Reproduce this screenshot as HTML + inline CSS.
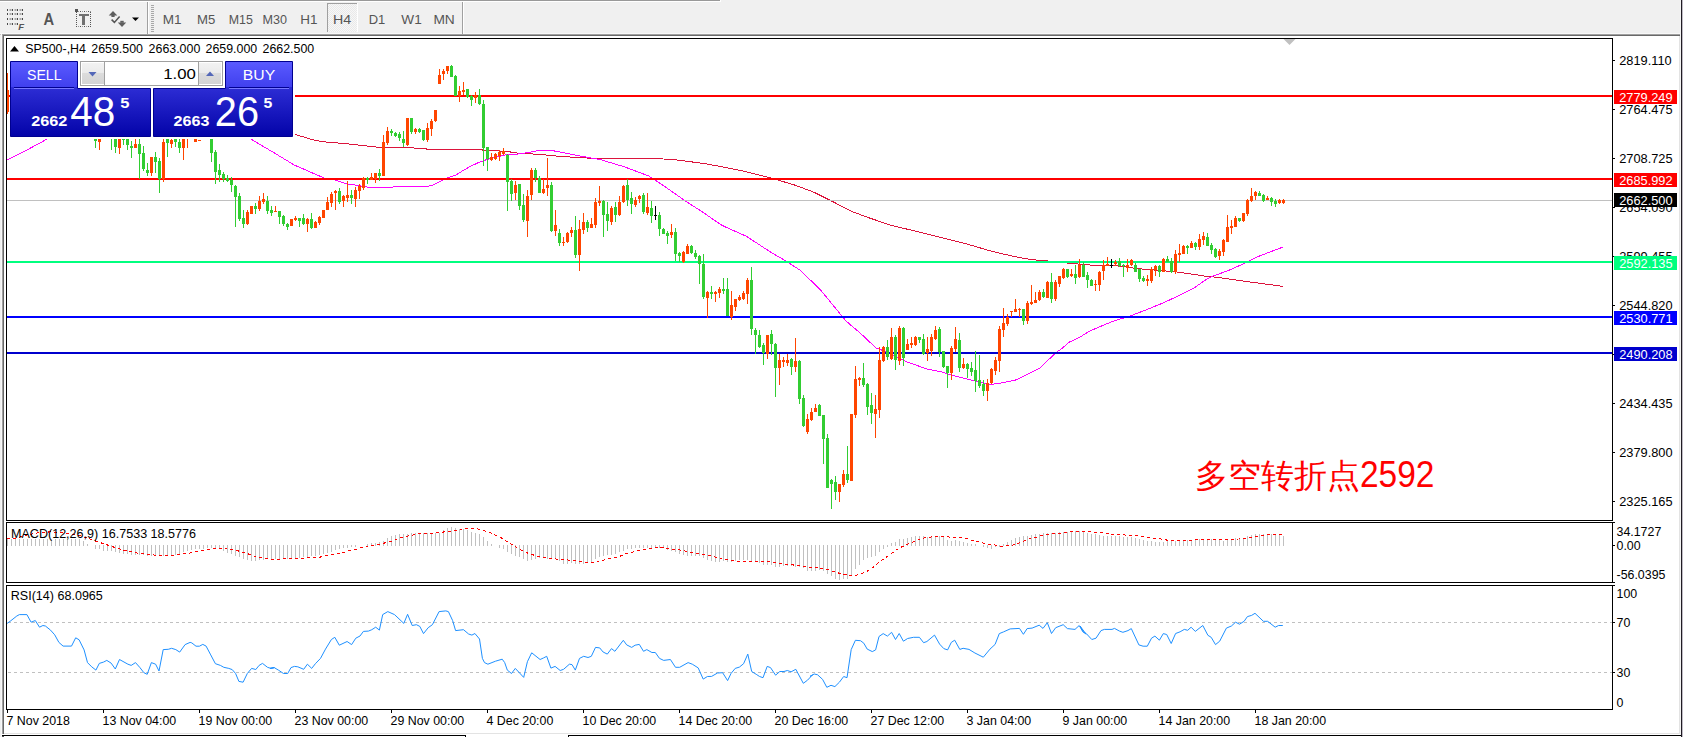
<!DOCTYPE html>
<html><head><meta charset="utf-8"><title>SP500-,H4</title>
<style>
html,body{margin:0;padding:0;background:#fff;}
body{width:1683px;height:737px;overflow:hidden;}
svg{display:block;}
text{font-family:'Liberation Sans', sans-serif;}
</style></head>
<body>
<svg width="1683" height="737" viewBox="0 0 1683 737">
<rect x="0" y="0" width="1683" height="737" fill="#ffffff"/>
<rect x="0" y="0" width="1683" height="34" fill="#f0f0f0"/>
<rect x="0" y="0" width="720" height="1" fill="#999999"/>
<rect x="0" y="1" width="721" height="1" fill="#ffffff"/>
<rect x="720" y="0" width="1" height="2" fill="#ffffff"/>
<rect x="0" y="33" width="1680" height="1" fill="#f8f8f8"/>
<rect x="0" y="34" width="2" height="703" fill="#f0f0f0"/>
<rect x="0" y="34" width="2" height="1" fill="#c4c4c4"/>
<rect x="1" y="34" width="1" height="703" fill="#f8f8f8"/>
<rect x="2" y="34" width="1678" height="1" fill="#a0a0a0"/>
<rect x="3" y="35" width="1677" height="1" fill="#696969"/>
<rect x="2" y="34" width="1" height="700" fill="#a0a0a0"/>
<rect x="3" y="35" width="1" height="699" fill="#696969"/>
<rect x="1679" y="36" width="1" height="698" fill="#e3e3e3"/>
<rect x="4" y="733" width="1676" height="1" fill="#e3e3e3"/>
<rect x="1680" y="0" width="1" height="737" fill="#f4f4f4"/>
<rect x="1681" y="0" width="1" height="737" fill="#201c24"/>
<rect x="1682" y="0" width="1" height="737" fill="#c0bcc6"/>
<rect x="2" y="735" width="464" height="1" fill="#000000"/>
<rect x="465" y="735" width="1" height="2" fill="#000000"/>
<rect x="568" y="735" width="1" height="2" fill="#000000"/>
<rect x="568" y="735" width="1113" height="1" fill="#000000"/>
<rect x="2" y="736" width="2" height="1" fill="#555555"/>
<rect x="7" y="9" width="1" height="2" fill="#4a4a4a"/>
<rect x="9.5" y="9" width="2" height="2" fill="#a8a8a8"/>
<rect x="12" y="9" width="1" height="2" fill="#4a4a4a"/>
<rect x="14.5" y="9" width="2" height="2" fill="#a8a8a8"/>
<rect x="17" y="9" width="1" height="2" fill="#4a4a4a"/>
<rect x="19.5" y="9" width="2" height="2" fill="#a8a8a8"/>
<rect x="22" y="9" width="1" height="2" fill="#4a4a4a"/>
<rect x="7" y="13" width="1" height="2" fill="#4a4a4a"/>
<rect x="9.5" y="13" width="2" height="2" fill="#a8a8a8"/>
<rect x="12" y="13" width="1" height="2" fill="#4a4a4a"/>
<rect x="14.5" y="13" width="2" height="2" fill="#a8a8a8"/>
<rect x="17" y="13" width="1" height="2" fill="#4a4a4a"/>
<rect x="19.5" y="13" width="2" height="2" fill="#a8a8a8"/>
<rect x="22" y="13" width="1" height="2" fill="#4a4a4a"/>
<rect x="7" y="18" width="1" height="2" fill="#4a4a4a"/>
<rect x="9.5" y="18" width="2" height="2" fill="#a8a8a8"/>
<rect x="12" y="18" width="1" height="2" fill="#4a4a4a"/>
<rect x="14.5" y="18" width="2" height="2" fill="#a8a8a8"/>
<rect x="17" y="18" width="1" height="2" fill="#4a4a4a"/>
<rect x="19.5" y="18" width="2" height="2" fill="#a8a8a8"/>
<rect x="22" y="18" width="1" height="2" fill="#4a4a4a"/>
<rect x="7" y="23" width="1" height="2" fill="#4a4a4a"/>
<rect x="9.5" y="23" width="2" height="2" fill="#a8a8a8"/>
<rect x="12" y="23" width="1" height="2" fill="#4a4a4a"/>
<rect x="14.5" y="23" width="2" height="2" fill="#a8a8a8"/>
<rect x="17" y="23" width="1" height="2" fill="#4a4a4a"/>
<text x="18.3" y="29.9" fill="#555" font-size="9.5" font-weight="bold" font-style="italic" font-family="'Liberation Sans', sans-serif">F</text>
<text x="43.6" y="24.7" fill="#555" font-size="16.6" font-weight="bold" font-family="'Liberation Sans', sans-serif" textLength="10.6" lengthAdjust="spacingAndGlyphs">A</text>
<rect x="78" y="11" width="1" height="1" fill="#999"/>
<rect x="78" y="26" width="1" height="1" fill="#999"/>
<rect x="80" y="11" width="1" height="1" fill="#555"/>
<rect x="80" y="26" width="1" height="1" fill="#555"/>
<rect x="82" y="11" width="1" height="1" fill="#999"/>
<rect x="82" y="26" width="1" height="1" fill="#999"/>
<rect x="84" y="11" width="1" height="1" fill="#555"/>
<rect x="84" y="26" width="1" height="1" fill="#555"/>
<rect x="86" y="11" width="1" height="1" fill="#999"/>
<rect x="86" y="26" width="1" height="1" fill="#999"/>
<rect x="88" y="11" width="1" height="1" fill="#555"/>
<rect x="88" y="26" width="1" height="1" fill="#555"/>
<rect x="90" y="11" width="1" height="1" fill="#999"/>
<rect x="90" y="26" width="1" height="1" fill="#999"/>
<rect x="76" y="12" width="1" height="1" fill="#555"/>
<rect x="90" y="12" width="1" height="1" fill="#555"/>
<rect x="76" y="14" width="1" height="1" fill="#555"/>
<rect x="90" y="14" width="1" height="1" fill="#555"/>
<rect x="76" y="16" width="1" height="1" fill="#555"/>
<rect x="90" y="16" width="1" height="1" fill="#555"/>
<rect x="76" y="18" width="1" height="1" fill="#555"/>
<rect x="90" y="18" width="1" height="1" fill="#555"/>
<rect x="76" y="20" width="1" height="1" fill="#555"/>
<rect x="90" y="20" width="1" height="1" fill="#555"/>
<rect x="76" y="22" width="1" height="1" fill="#555"/>
<rect x="90" y="22" width="1" height="1" fill="#555"/>
<rect x="76" y="24" width="1" height="1" fill="#555"/>
<rect x="90" y="24" width="1" height="1" fill="#555"/>
<rect x="76" y="26" width="1" height="1" fill="#555"/>
<rect x="90" y="26" width="1" height="1" fill="#555"/>
<rect x="75" y="9" width="3" height="3" fill="#555"/>
<rect x="79" y="14" width="10" height="2" fill="#707070"/>
<rect x="82" y="14" width="3" height="11" fill="#707070"/>
<path d="M108.7 15.5 L113 11 L117.3 15.5 L114.6 15.5 L114.6 17 L111.4 17 L111.4 15.5 Z" fill="#5e5e5e"/>
<path d="M117.8 22.6 L126.2 22.6 L122 27 Z" fill="#5e5e5e"/>
<rect x="120.3" y="20.8" width="3.4" height="2" fill="#5e5e5e"/>
<path d="M111.6 19.6 L114.4 22.4 L119.6 16.4" stroke="#555" stroke-width="1.5" fill="none"/>
<path d="M132 17.5 L139 17.5 L135.5 21 Z" fill="#000"/>
<rect x="147" y="2" width="1" height="32" fill="#a0a0a0"/>
<rect x="148" y="2" width="1" height="32" fill="#ffffff"/>
<rect x="151" y="5" width="3" height="1" fill="#a8a8a8"/>
<rect x="151" y="7" width="3" height="1" fill="#a8a8a8"/>
<rect x="151" y="9" width="3" height="1" fill="#a8a8a8"/>
<rect x="151" y="11" width="3" height="1" fill="#a8a8a8"/>
<rect x="151" y="13" width="3" height="1" fill="#a8a8a8"/>
<rect x="151" y="15" width="3" height="1" fill="#a8a8a8"/>
<rect x="151" y="17" width="3" height="1" fill="#a8a8a8"/>
<rect x="151" y="19" width="3" height="1" fill="#a8a8a8"/>
<rect x="151" y="21" width="3" height="1" fill="#a8a8a8"/>
<rect x="151" y="23" width="3" height="1" fill="#a8a8a8"/>
<rect x="151" y="25" width="3" height="1" fill="#a8a8a8"/>
<rect x="151" y="27" width="3" height="1" fill="#a8a8a8"/>
<rect x="151" y="29" width="3" height="1" fill="#a8a8a8"/>
<rect x="151" y="31" width="3" height="1" fill="#a8a8a8"/>
<rect x="462" y="2" width="1" height="32" fill="#a0a0a0"/>
<rect x="463" y="2" width="1" height="32" fill="#ffffff"/>
<defs><pattern id="dith" width="2" height="2" patternUnits="userSpaceOnUse"><rect width="2" height="2" fill="#f7f7f7"/><rect width="1" height="1" fill="#e9e9e9"/><rect x="1" y="1" width="1" height="1" fill="#e9e9e9"/></pattern><linearGradient id="gsell" x1="0" y1="0" x2="0" y2="1"><stop offset="0" stop-color="#5a5aff"/><stop offset="1" stop-color="#4040ee"/></linearGradient><linearGradient id="glow" x1="0" y1="0" x2="0" y2="1"><stop offset="0" stop-color="#4343ec"/><stop offset="1" stop-color="#0303a8"/></linearGradient><linearGradient id="gbtn" x1="0" y1="0" x2="0" y2="1"><stop offset="0" stop-color="#f2f2f2"/><stop offset="0.45" stop-color="#ebebeb"/><stop offset="0.5" stop-color="#dcdcdc"/><stop offset="1" stop-color="#d4d4d4"/></linearGradient></defs>
<rect x="327" y="3" width="31" height="29" fill="url(#dith)"/>
<rect x="327" y="3" width="31" height="1" fill="#a0a0a0"/>
<rect x="327" y="3" width="1" height="29" fill="#a0a0a0"/>
<rect x="357" y="3" width="1" height="29" fill="#ffffff"/>
<text x="162.8" y="23.6" fill="#555555" font-size="13" textLength="18.8" lengthAdjust="spacingAndGlyphs">M1</text>
<text x="197.0" y="23.6" fill="#555555" font-size="13" textLength="18.3" lengthAdjust="spacingAndGlyphs">M5</text>
<text x="228.8" y="23.6" fill="#555555" font-size="13" textLength="24.1" lengthAdjust="spacingAndGlyphs">M15</text>
<text x="262.6" y="23.6" fill="#555555" font-size="13" textLength="24.5" lengthAdjust="spacingAndGlyphs">M30</text>
<text x="300.2" y="23.6" fill="#555555" font-size="13" textLength="17.2" lengthAdjust="spacingAndGlyphs">H1</text>
<text x="332.9" y="23.6" fill="#555555" font-size="13" textLength="18.2" lengthAdjust="spacingAndGlyphs">H4</text>
<text x="368.7" y="23.6" fill="#555555" font-size="13" textLength="16.6" lengthAdjust="spacingAndGlyphs">D1</text>
<text x="401.3" y="23.6" fill="#555555" font-size="13" textLength="20.4" lengthAdjust="spacingAndGlyphs">W1</text>
<text x="433.4" y="23.6" fill="#555555" font-size="13" textLength="21.4" lengthAdjust="spacingAndGlyphs">MN</text>
<rect x="6" y="38" width="1607" height="1" fill="#000"/>
<rect x="6" y="38" width="1" height="483" fill="#000"/>
<rect x="1612" y="38" width="1" height="483" fill="#000"/>
<rect x="6" y="520" width="1607" height="1" fill="#000"/>
<rect x="6" y="522" width="1607" height="1" fill="#000"/>
<rect x="6" y="522" width="1" height="61" fill="#000"/>
<rect x="1612" y="522" width="1" height="61" fill="#000"/>
<rect x="6" y="582" width="1607" height="1" fill="#000"/>
<rect x="6" y="585" width="1607" height="1" fill="#000"/>
<rect x="6" y="585" width="1" height="125" fill="#000"/>
<rect x="1612" y="585" width="1" height="125" fill="#000"/>
<rect x="6" y="709" width="1607" height="1" fill="#000"/>
<g fill="none" stroke-width="1" shape-rendering="crispEdges">
<polyline points="280.0,129.5 295.0,134.2 301.0,136.2 307.8,138.2 314.6,140.3 327.2,142.2 342.8,143.4 358.4,145.0 380.0,147.5 413.3,147.5 414.1,148.3 425.8,148.3 426.6,149.4 481.5,149.4 483.2,150.4 498.1,150.4 499.8,151.2 509.8,151.2 510.6,152.3 520.0,153.3 538.6,154.3 556.9,156.1 575.2,157.4 593.5,158.3 637.8,158.3 653.6,158.5 673.1,159.5 704.8,163.6 721.8,166.8 746.2,171.7 770.5,177.8 794.9,185.1 814.4,192.4 831.4,200.9 850.9,211.1 868.0,217.5 892.3,225.7 916.7,231.4 941.0,237.4 965.4,243.5 989.8,250.8 1004.0,254.2 1017.6,257.2 1031.1,259.6 1044.7,260.7 1070.0,263.3 1093.5,265.3 1114.0,265.4 1137.3,268.6 1176.4,271.9 1193.5,274.3 1205.7,276.2 1218.0,277.4 1250.0,282.0 1283.0,286.4" stroke="#dc143c"/>
<polyline points="7.0,160.0 25.0,151.0 40.0,143.0 52.0,136.0" stroke="#ff00ff"/>
<polyline points="248.0,136.5 251.2,139.2 260.4,144.7 271.9,151.5 282.0,157.6 294.3,165.0 311.6,172.6 324.0,178.0 335.0,180.0 347.5,184.0 358.4,185.5 369.3,187.4 392.9,187.4 393.3,186.2 428.7,186.2 433.2,184.9 443.2,179.9 449.0,177.3 455.3,175.4 463.2,170.4 471.5,165.8 479.8,162.0 488.2,159.1 496.5,157.1 504.8,155.0 516.4,154.3 529.5,152.4 538.6,150.4 551.4,150.4 566.0,153.2 584.4,156.8 600.0,159.5 624.4,166.8 648.7,176.0 660.9,183.8 685.3,200.9 702.3,211.9 721.8,225.3 746.2,236.2 770.5,252.0 785.1,260.6 799.8,270.0 820.0,289.3 846.0,321.0 860.9,333.7 875.9,347.9 881.8,350.1 890.8,353.8 906.0,361.6 913.6,364.3 927.1,369.0 940.7,371.7 954.3,375.8 967.8,379.2 976.0,381.2 990.0,384.6 1000.4,383.2 1015.6,380.0 1028.0,374.1 1039.4,368.4 1048.9,359.4 1056.5,352.3 1062.2,348.3 1068.8,342.3 1080.2,337.1 1088.8,331.4 1107.0,323.7 1114.0,321.0 1130.0,316.0 1145.8,310.0 1163.0,303.0 1181.3,294.5 1193.5,288.4 1205.7,279.8 1211.8,276.4 1218.0,274.3 1229.5,270.0 1245.4,263.0 1258.8,256.3 1273.5,250.6 1282.7,247.2" stroke="#ff00ff"/>
</g>
<rect x="7" y="200" width="1605" height="1" fill="#c0c0c0"/>
<rect x="7" y="95" width="1605" height="2" fill="#ff0000"/>
<rect x="7" y="178" width="1605" height="2" fill="#ff0000"/>
<rect x="7" y="261" width="1605" height="2" fill="#00ff7f"/>
<rect x="7" y="316" width="1605" height="2" fill="#0000ff"/>
<rect x="7" y="352" width="1605" height="2" fill="#0000cd"/>
<g shape-rendering="crispEdges">
<rect x="7" y="73" width="1" height="41" fill="#ff4500"/>
<rect x="7" y="90" width="2" height="22" fill="#ff4500"/>
<rect x="95" y="130" width="1" height="18" fill="#32cd32"/>
<rect x="94" y="130" width="3" height="11" fill="#32cd32"/>
<rect x="99" y="130" width="1" height="20" fill="#ff4500"/>
<rect x="98" y="130" width="3" height="12" fill="#ff4500"/>
<rect x="111" y="130" width="1" height="20" fill="#32cd32"/>
<rect x="110" y="130" width="3" height="4" fill="#32cd32"/>
<rect x="115" y="130" width="1" height="23" fill="#32cd32"/>
<rect x="114" y="130" width="3" height="17" fill="#32cd32"/>
<rect x="119" y="130" width="1" height="24" fill="#ff4500"/>
<rect x="118" y="130" width="3" height="18" fill="#ff4500"/>
<rect x="123" y="130" width="1" height="15" fill="#32cd32"/>
<rect x="122" y="130" width="3" height="10" fill="#32cd32"/>
<rect x="127" y="130" width="1" height="20" fill="#32cd32"/>
<rect x="126" y="130" width="3" height="15" fill="#32cd32"/>
<rect x="131" y="141" width="1" height="17" fill="#32cd32"/>
<rect x="130" y="146" width="3" height="2" fill="#32cd32"/>
<rect x="135" y="139" width="1" height="9" fill="#ff4500"/>
<rect x="134" y="144" width="3" height="4" fill="#ff4500"/>
<rect x="139" y="130" width="1" height="49" fill="#32cd32"/>
<rect x="138" y="144" width="3" height="10" fill="#32cd32"/>
<rect x="143" y="146" width="1" height="25" fill="#32cd32"/>
<rect x="142" y="153" width="3" height="16" fill="#32cd32"/>
<rect x="147" y="163" width="1" height="13" fill="#32cd32"/>
<rect x="146" y="170" width="3" height="3" fill="#32cd32"/>
<rect x="151" y="157" width="1" height="19" fill="#ff4500"/>
<rect x="150" y="157" width="3" height="16" fill="#ff4500"/>
<rect x="155" y="152" width="1" height="21" fill="#32cd32"/>
<rect x="154" y="157" width="3" height="5" fill="#32cd32"/>
<rect x="159" y="158" width="1" height="35" fill="#32cd32"/>
<rect x="158" y="161" width="3" height="18" fill="#32cd32"/>
<rect x="163" y="139" width="1" height="43" fill="#ff4500"/>
<rect x="162" y="142" width="3" height="37" fill="#ff4500"/>
<rect x="167" y="130" width="1" height="27" fill="#32cd32"/>
<rect x="166" y="130" width="3" height="13" fill="#32cd32"/>
<rect x="171" y="130" width="1" height="18" fill="#ff4500"/>
<rect x="170" y="140" width="3" height="4" fill="#ff4500"/>
<rect x="175" y="130" width="1" height="17" fill="#32cd32"/>
<rect x="174" y="130" width="3" height="12" fill="#32cd32"/>
<rect x="179" y="130" width="1" height="23" fill="#32cd32"/>
<rect x="178" y="142" width="3" height="6" fill="#32cd32"/>
<rect x="183" y="130" width="1" height="30" fill="#ff4500"/>
<rect x="182" y="130" width="3" height="18" fill="#ff4500"/>
<rect x="187" y="130" width="1" height="18" fill="#ff4500"/>
<rect x="186" y="130" width="3" height="4" fill="#ff4500"/>
<rect x="195" y="139" width="1" height="3" fill="#ff4500"/>
<rect x="194" y="139" width="3" height="3" fill="#ff4500"/>
<rect x="199" y="140" width="1" height="1" fill="#ff4500"/>
<rect x="198" y="140" width="3" height="1" fill="#ff4500"/>
<rect x="211" y="130" width="1" height="32" fill="#32cd32"/>
<rect x="210" y="130" width="3" height="23" fill="#32cd32"/>
<rect x="215" y="150" width="1" height="34" fill="#32cd32"/>
<rect x="214" y="152" width="3" height="20" fill="#32cd32"/>
<rect x="219" y="164" width="1" height="18" fill="#32cd32"/>
<rect x="218" y="170" width="3" height="5" fill="#32cd32"/>
<rect x="223" y="172" width="1" height="10" fill="#32cd32"/>
<rect x="222" y="174" width="3" height="5" fill="#32cd32"/>
<rect x="227" y="175" width="1" height="7" fill="#32cd32"/>
<rect x="226" y="178" width="3" height="3" fill="#32cd32"/>
<rect x="231" y="177" width="1" height="15" fill="#32cd32"/>
<rect x="230" y="180" width="3" height="5" fill="#32cd32"/>
<rect x="235" y="185" width="1" height="42" fill="#32cd32"/>
<rect x="234" y="186" width="3" height="11" fill="#32cd32"/>
<rect x="239" y="193" width="1" height="28" fill="#32cd32"/>
<rect x="238" y="196" width="3" height="23" fill="#32cd32"/>
<rect x="243" y="210" width="1" height="18" fill="#32cd32"/>
<rect x="242" y="218" width="3" height="6" fill="#32cd32"/>
<rect x="247" y="210" width="1" height="15" fill="#ff4500"/>
<rect x="246" y="212" width="3" height="12" fill="#ff4500"/>
<rect x="251" y="206" width="1" height="8" fill="#ff4500"/>
<rect x="250" y="206" width="3" height="8" fill="#ff4500"/>
<rect x="255" y="203" width="1" height="11" fill="#32cd32"/>
<rect x="254" y="206" width="3" height="3" fill="#32cd32"/>
<rect x="259" y="196" width="1" height="15" fill="#ff4500"/>
<rect x="258" y="201" width="3" height="8" fill="#ff4500"/>
<rect x="263" y="193" width="1" height="11" fill="#ff4500"/>
<rect x="262" y="199" width="3" height="3" fill="#ff4500"/>
<rect x="267" y="196" width="1" height="18" fill="#32cd32"/>
<rect x="266" y="201" width="3" height="10" fill="#32cd32"/>
<rect x="271" y="206" width="1" height="10" fill="#32cd32"/>
<rect x="270" y="210" width="3" height="3" fill="#32cd32"/>
<rect x="275" y="206" width="1" height="6" fill="#ff4500"/>
<rect x="274" y="211" width="3" height="1" fill="#ff4500"/>
<rect x="279" y="211" width="1" height="13" fill="#32cd32"/>
<rect x="278" y="211" width="3" height="6" fill="#32cd32"/>
<rect x="283" y="215" width="1" height="11" fill="#32cd32"/>
<rect x="282" y="216" width="3" height="8" fill="#32cd32"/>
<rect x="287" y="223" width="1" height="7" fill="#32cd32"/>
<rect x="286" y="224" width="3" height="3" fill="#32cd32"/>
<rect x="291" y="219" width="1" height="7" fill="#ff4500"/>
<rect x="290" y="219" width="3" height="7" fill="#ff4500"/>
<rect x="295" y="216" width="1" height="5" fill="#ff4500"/>
<rect x="294" y="218" width="3" height="2" fill="#ff4500"/>
<rect x="299" y="218" width="1" height="9" fill="#32cd32"/>
<rect x="298" y="218" width="3" height="3" fill="#32cd32"/>
<rect x="303" y="214" width="1" height="11" fill="#32cd32"/>
<rect x="302" y="218" width="3" height="6" fill="#32cd32"/>
<rect x="307" y="218" width="1" height="14" fill="#ff4500"/>
<rect x="306" y="219" width="3" height="5" fill="#ff4500"/>
<rect x="311" y="213" width="1" height="16" fill="#32cd32"/>
<rect x="310" y="219" width="3" height="9" fill="#32cd32"/>
<rect x="315" y="221" width="1" height="7" fill="#ff4500"/>
<rect x="314" y="222" width="3" height="6" fill="#ff4500"/>
<rect x="319" y="216" width="1" height="9" fill="#ff4500"/>
<rect x="318" y="217" width="3" height="6" fill="#ff4500"/>
<rect x="323" y="210" width="1" height="8" fill="#ff4500"/>
<rect x="322" y="210" width="3" height="8" fill="#ff4500"/>
<rect x="327" y="197" width="1" height="13" fill="#ff4500"/>
<rect x="326" y="202" width="3" height="8" fill="#ff4500"/>
<rect x="331" y="192" width="1" height="15" fill="#ff4500"/>
<rect x="330" y="194" width="3" height="9" fill="#ff4500"/>
<rect x="335" y="190" width="1" height="20" fill="#ff4500"/>
<rect x="334" y="191" width="3" height="2" fill="#ff4500"/>
<rect x="339" y="188" width="1" height="16" fill="#32cd32"/>
<rect x="338" y="191" width="3" height="11" fill="#32cd32"/>
<rect x="343" y="195" width="1" height="12" fill="#ff4500"/>
<rect x="342" y="196" width="3" height="5" fill="#ff4500"/>
<rect x="347" y="181" width="1" height="21" fill="#ff4500"/>
<rect x="346" y="195" width="3" height="3" fill="#ff4500"/>
<rect x="351" y="190" width="1" height="14" fill="#32cd32"/>
<rect x="350" y="195" width="3" height="3" fill="#32cd32"/>
<rect x="355" y="187" width="1" height="20" fill="#ff4500"/>
<rect x="354" y="190" width="3" height="9" fill="#ff4500"/>
<rect x="359" y="184" width="1" height="15" fill="#ff4500"/>
<rect x="358" y="186" width="3" height="5" fill="#ff4500"/>
<rect x="363" y="177" width="1" height="13" fill="#ff4500"/>
<rect x="362" y="178" width="3" height="10" fill="#ff4500"/>
<rect x="367" y="177" width="1" height="7" fill="#32cd32"/>
<rect x="366" y="178" width="3" height="2" fill="#32cd32"/>
<rect x="371" y="173" width="1" height="7" fill="#ff4500"/>
<rect x="370" y="177" width="3" height="3" fill="#ff4500"/>
<rect x="375" y="173" width="1" height="10" fill="#ff4500"/>
<rect x="374" y="173" width="3" height="6" fill="#ff4500"/>
<rect x="379" y="169" width="1" height="12" fill="#32cd32"/>
<rect x="378" y="173" width="3" height="3" fill="#32cd32"/>
<rect x="383" y="135" width="1" height="41" fill="#ff4500"/>
<rect x="382" y="142" width="3" height="34" fill="#ff4500"/>
<rect x="387" y="127" width="1" height="18" fill="#ff4500"/>
<rect x="386" y="131" width="3" height="12" fill="#ff4500"/>
<rect x="391" y="129" width="1" height="7" fill="#32cd32"/>
<rect x="390" y="131" width="3" height="2" fill="#32cd32"/>
<rect x="395" y="132" width="1" height="5" fill="#32cd32"/>
<rect x="394" y="133" width="3" height="3" fill="#32cd32"/>
<rect x="399" y="132" width="1" height="9" fill="#32cd32"/>
<rect x="398" y="134" width="3" height="4" fill="#32cd32"/>
<rect x="403" y="131" width="1" height="16" fill="#32cd32"/>
<rect x="402" y="139" width="3" height="4" fill="#32cd32"/>
<rect x="407" y="118" width="1" height="28" fill="#ff4500"/>
<rect x="406" y="118" width="3" height="27" fill="#ff4500"/>
<rect x="411" y="118" width="1" height="16" fill="#32cd32"/>
<rect x="410" y="118" width="3" height="14" fill="#32cd32"/>
<rect x="415" y="128" width="1" height="6" fill="#ff4500"/>
<rect x="414" y="129" width="3" height="3" fill="#ff4500"/>
<rect x="419" y="128" width="1" height="5" fill="#32cd32"/>
<rect x="418" y="129" width="3" height="3" fill="#32cd32"/>
<rect x="423" y="130" width="1" height="11" fill="#32cd32"/>
<rect x="422" y="130" width="3" height="10" fill="#32cd32"/>
<rect x="427" y="123" width="1" height="19" fill="#ff4500"/>
<rect x="426" y="128" width="3" height="12" fill="#ff4500"/>
<rect x="431" y="119" width="1" height="17" fill="#ff4500"/>
<rect x="430" y="121" width="3" height="8" fill="#ff4500"/>
<rect x="435" y="110" width="1" height="12" fill="#ff4500"/>
<rect x="434" y="110" width="3" height="11" fill="#ff4500"/>
<rect x="439" y="69" width="1" height="15" fill="#ff4500"/>
<rect x="438" y="75" width="3" height="9" fill="#ff4500"/>
<rect x="443" y="69" width="1" height="11" fill="#ff4500"/>
<rect x="442" y="71" width="3" height="3" fill="#ff4500"/>
<rect x="447" y="66" width="1" height="8" fill="#ff4500"/>
<rect x="446" y="66" width="3" height="5" fill="#ff4500"/>
<rect x="451" y="65" width="1" height="12" fill="#32cd32"/>
<rect x="450" y="66" width="3" height="11" fill="#32cd32"/>
<rect x="455" y="75" width="1" height="21" fill="#32cd32"/>
<rect x="454" y="76" width="3" height="20" fill="#32cd32"/>
<rect x="459" y="86" width="1" height="16" fill="#ff4500"/>
<rect x="458" y="91" width="3" height="5" fill="#ff4500"/>
<rect x="463" y="82" width="1" height="13" fill="#ff4500"/>
<rect x="462" y="90" width="3" height="2" fill="#ff4500"/>
<rect x="467" y="89" width="1" height="9" fill="#32cd32"/>
<rect x="466" y="89" width="3" height="8" fill="#32cd32"/>
<rect x="471" y="95" width="1" height="11" fill="#32cd32"/>
<rect x="470" y="96" width="3" height="4" fill="#32cd32"/>
<rect x="475" y="92" width="1" height="11" fill="#ff4500"/>
<rect x="474" y="95" width="3" height="3" fill="#ff4500"/>
<rect x="479" y="89" width="1" height="16" fill="#32cd32"/>
<rect x="478" y="95" width="3" height="9" fill="#32cd32"/>
<rect x="483" y="100" width="1" height="66" fill="#32cd32"/>
<rect x="482" y="104" width="3" height="44" fill="#32cd32"/>
<rect x="487" y="147" width="1" height="24" fill="#32cd32"/>
<rect x="486" y="147" width="3" height="12" fill="#32cd32"/>
<rect x="491" y="153" width="1" height="8" fill="#ff4500"/>
<rect x="490" y="157" width="3" height="3" fill="#ff4500"/>
<rect x="495" y="153" width="1" height="7" fill="#ff4500"/>
<rect x="494" y="154" width="3" height="5" fill="#ff4500"/>
<rect x="499" y="150" width="1" height="11" fill="#ff4500"/>
<rect x="498" y="152" width="3" height="4" fill="#ff4500"/>
<rect x="503" y="148" width="1" height="7" fill="#ff4500"/>
<rect x="502" y="151" width="3" height="3" fill="#ff4500"/>
<rect x="507" y="154" width="1" height="57" fill="#32cd32"/>
<rect x="506" y="155" width="3" height="27" fill="#32cd32"/>
<rect x="511" y="179" width="1" height="22" fill="#32cd32"/>
<rect x="510" y="181" width="3" height="13" fill="#32cd32"/>
<rect x="515" y="181" width="1" height="19" fill="#ff4500"/>
<rect x="514" y="185" width="3" height="8" fill="#ff4500"/>
<rect x="519" y="184" width="1" height="26" fill="#32cd32"/>
<rect x="518" y="184" width="3" height="22" fill="#32cd32"/>
<rect x="523" y="194" width="1" height="28" fill="#32cd32"/>
<rect x="522" y="205" width="3" height="15" fill="#32cd32"/>
<rect x="527" y="190" width="1" height="47" fill="#ff4500"/>
<rect x="526" y="196" width="3" height="25" fill="#ff4500"/>
<rect x="531" y="168" width="1" height="32" fill="#ff4500"/>
<rect x="530" y="170" width="3" height="25" fill="#ff4500"/>
<rect x="535" y="168" width="1" height="14" fill="#32cd32"/>
<rect x="534" y="170" width="3" height="8" fill="#32cd32"/>
<rect x="539" y="176" width="1" height="17" fill="#32cd32"/>
<rect x="538" y="178" width="3" height="15" fill="#32cd32"/>
<rect x="543" y="179" width="1" height="15" fill="#ff4500"/>
<rect x="542" y="189" width="3" height="4" fill="#ff4500"/>
<rect x="547" y="158" width="1" height="38" fill="#ff4500"/>
<rect x="546" y="185" width="3" height="3" fill="#ff4500"/>
<rect x="551" y="182" width="1" height="50" fill="#32cd32"/>
<rect x="550" y="185" width="3" height="46" fill="#32cd32"/>
<rect x="555" y="210" width="1" height="26" fill="#ff4500"/>
<rect x="554" y="225" width="3" height="6" fill="#ff4500"/>
<rect x="559" y="229" width="1" height="17" fill="#32cd32"/>
<rect x="558" y="233" width="3" height="10" fill="#32cd32"/>
<rect x="563" y="237" width="1" height="9" fill="#ff4500"/>
<rect x="562" y="242" width="3" height="1" fill="#ff4500"/>
<rect x="567" y="232" width="1" height="11" fill="#ff4500"/>
<rect x="566" y="233" width="3" height="9" fill="#ff4500"/>
<rect x="571" y="227" width="1" height="10" fill="#ff4500"/>
<rect x="570" y="230" width="3" height="3" fill="#ff4500"/>
<rect x="575" y="216" width="1" height="42" fill="#32cd32"/>
<rect x="574" y="230" width="3" height="25" fill="#32cd32"/>
<rect x="579" y="220" width="1" height="51" fill="#ff4500"/>
<rect x="578" y="229" width="3" height="26" fill="#ff4500"/>
<rect x="583" y="213" width="1" height="21" fill="#ff4500"/>
<rect x="582" y="222" width="3" height="8" fill="#ff4500"/>
<rect x="587" y="220" width="1" height="12" fill="#32cd32"/>
<rect x="586" y="222" width="3" height="6" fill="#32cd32"/>
<rect x="591" y="218" width="1" height="10" fill="#ff4500"/>
<rect x="590" y="224" width="3" height="4" fill="#ff4500"/>
<rect x="595" y="198" width="1" height="30" fill="#ff4500"/>
<rect x="594" y="202" width="3" height="23" fill="#ff4500"/>
<rect x="599" y="186" width="1" height="20" fill="#ff4500"/>
<rect x="598" y="201" width="3" height="2" fill="#ff4500"/>
<rect x="603" y="200" width="1" height="37" fill="#32cd32"/>
<rect x="602" y="201" width="3" height="14" fill="#32cd32"/>
<rect x="607" y="202" width="1" height="29" fill="#32cd32"/>
<rect x="606" y="214" width="3" height="7" fill="#32cd32"/>
<rect x="611" y="206" width="1" height="19" fill="#ff4500"/>
<rect x="610" y="208" width="3" height="14" fill="#ff4500"/>
<rect x="615" y="202" width="1" height="20" fill="#32cd32"/>
<rect x="614" y="207" width="3" height="8" fill="#32cd32"/>
<rect x="619" y="196" width="1" height="20" fill="#ff4500"/>
<rect x="618" y="202" width="3" height="13" fill="#ff4500"/>
<rect x="623" y="185" width="1" height="18" fill="#ff4500"/>
<rect x="622" y="186" width="3" height="16" fill="#ff4500"/>
<rect x="627" y="179" width="1" height="27" fill="#32cd32"/>
<rect x="626" y="185" width="3" height="15" fill="#32cd32"/>
<rect x="631" y="192" width="1" height="22" fill="#32cd32"/>
<rect x="630" y="198" width="3" height="6" fill="#32cd32"/>
<rect x="635" y="197" width="1" height="10" fill="#ff4500"/>
<rect x="634" y="200" width="3" height="5" fill="#ff4500"/>
<rect x="639" y="195" width="1" height="8" fill="#ff4500"/>
<rect x="638" y="196" width="3" height="3" fill="#ff4500"/>
<rect x="643" y="193" width="1" height="21" fill="#32cd32"/>
<rect x="642" y="195" width="3" height="17" fill="#32cd32"/>
<rect x="647" y="193" width="1" height="22" fill="#ff4500"/>
<rect x="646" y="207" width="3" height="6" fill="#ff4500"/>
<rect x="651" y="201" width="1" height="22" fill="#32cd32"/>
<rect x="650" y="208" width="3" height="8" fill="#32cd32"/>
<rect x="655" y="206" width="1" height="14" fill="#000000"/>
<rect x="654" y="215" width="3" height="1" fill="#000000"/>
<rect x="659" y="212" width="1" height="24" fill="#32cd32"/>
<rect x="658" y="215" width="3" height="14" fill="#32cd32"/>
<rect x="663" y="228" width="1" height="6" fill="#32cd32"/>
<rect x="662" y="229" width="3" height="5" fill="#32cd32"/>
<rect x="667" y="231" width="1" height="13" fill="#32cd32"/>
<rect x="666" y="233" width="3" height="3" fill="#32cd32"/>
<rect x="671" y="224" width="1" height="14" fill="#ff4500"/>
<rect x="670" y="232" width="3" height="3" fill="#ff4500"/>
<rect x="675" y="228" width="1" height="33" fill="#32cd32"/>
<rect x="674" y="232" width="3" height="22" fill="#32cd32"/>
<rect x="679" y="252" width="1" height="10" fill="#32cd32"/>
<rect x="678" y="253" width="3" height="3" fill="#32cd32"/>
<rect x="683" y="251" width="1" height="12" fill="#ff4500"/>
<rect x="682" y="252" width="3" height="10" fill="#ff4500"/>
<rect x="687" y="244" width="1" height="10" fill="#ff4500"/>
<rect x="686" y="246" width="3" height="8" fill="#ff4500"/>
<rect x="691" y="245" width="1" height="9" fill="#32cd32"/>
<rect x="690" y="246" width="3" height="7" fill="#32cd32"/>
<rect x="695" y="250" width="1" height="9" fill="#32cd32"/>
<rect x="694" y="253" width="3" height="4" fill="#32cd32"/>
<rect x="699" y="255" width="1" height="29" fill="#32cd32"/>
<rect x="698" y="256" width="3" height="8" fill="#32cd32"/>
<rect x="703" y="254" width="1" height="45" fill="#32cd32"/>
<rect x="702" y="264" width="3" height="33" fill="#32cd32"/>
<rect x="707" y="291" width="1" height="27" fill="#ff4500"/>
<rect x="706" y="292" width="3" height="6" fill="#ff4500"/>
<rect x="711" y="286" width="1" height="13" fill="#32cd32"/>
<rect x="710" y="292" width="3" height="2" fill="#32cd32"/>
<rect x="715" y="291" width="1" height="11" fill="#ff4500"/>
<rect x="714" y="292" width="3" height="2" fill="#ff4500"/>
<rect x="719" y="287" width="1" height="11" fill="#ff4500"/>
<rect x="718" y="289" width="3" height="4" fill="#ff4500"/>
<rect x="723" y="278" width="1" height="16" fill="#32cd32"/>
<rect x="722" y="289" width="3" height="2" fill="#32cd32"/>
<rect x="727" y="278" width="1" height="38" fill="#32cd32"/>
<rect x="726" y="289" width="3" height="27" fill="#32cd32"/>
<rect x="731" y="291" width="1" height="29" fill="#ff4500"/>
<rect x="730" y="305" width="3" height="12" fill="#ff4500"/>
<rect x="735" y="299" width="1" height="12" fill="#ff4500"/>
<rect x="734" y="299" width="3" height="8" fill="#ff4500"/>
<rect x="739" y="295" width="1" height="6" fill="#ff4500"/>
<rect x="738" y="297" width="3" height="3" fill="#ff4500"/>
<rect x="743" y="291" width="1" height="9" fill="#ff4500"/>
<rect x="742" y="293" width="3" height="6" fill="#ff4500"/>
<rect x="747" y="278" width="1" height="26" fill="#ff4500"/>
<rect x="746" y="280" width="3" height="14" fill="#ff4500"/>
<rect x="751" y="267" width="1" height="68" fill="#32cd32"/>
<rect x="750" y="280" width="3" height="49" fill="#32cd32"/>
<rect x="755" y="328" width="1" height="26" fill="#32cd32"/>
<rect x="754" y="330" width="3" height="5" fill="#32cd32"/>
<rect x="759" y="330" width="1" height="18" fill="#32cd32"/>
<rect x="758" y="335" width="3" height="12" fill="#32cd32"/>
<rect x="763" y="343" width="1" height="22" fill="#32cd32"/>
<rect x="762" y="345" width="3" height="8" fill="#32cd32"/>
<rect x="767" y="335" width="1" height="24" fill="#ff4500"/>
<rect x="766" y="335" width="3" height="19" fill="#ff4500"/>
<rect x="771" y="330" width="1" height="25" fill="#32cd32"/>
<rect x="770" y="334" width="3" height="10" fill="#32cd32"/>
<rect x="775" y="343" width="1" height="54" fill="#32cd32"/>
<rect x="774" y="344" width="3" height="24" fill="#32cd32"/>
<rect x="779" y="354" width="1" height="31" fill="#ff4500"/>
<rect x="778" y="360" width="3" height="8" fill="#ff4500"/>
<rect x="783" y="357" width="1" height="10" fill="#ff4500"/>
<rect x="782" y="360" width="3" height="2" fill="#ff4500"/>
<rect x="787" y="354" width="1" height="12" fill="#ff4500"/>
<rect x="786" y="360" width="3" height="3" fill="#ff4500"/>
<rect x="791" y="358" width="1" height="17" fill="#32cd32"/>
<rect x="790" y="359" width="3" height="8" fill="#32cd32"/>
<rect x="795" y="338" width="1" height="34" fill="#ff4500"/>
<rect x="794" y="361" width="3" height="6" fill="#ff4500"/>
<rect x="799" y="360" width="1" height="44" fill="#32cd32"/>
<rect x="798" y="361" width="3" height="38" fill="#32cd32"/>
<rect x="803" y="395" width="1" height="32" fill="#32cd32"/>
<rect x="802" y="398" width="3" height="28" fill="#32cd32"/>
<rect x="807" y="414" width="1" height="20" fill="#ff4500"/>
<rect x="806" y="419" width="3" height="13" fill="#ff4500"/>
<rect x="811" y="408" width="1" height="13" fill="#ff4500"/>
<rect x="810" y="412" width="3" height="8" fill="#ff4500"/>
<rect x="815" y="404" width="1" height="8" fill="#ff4500"/>
<rect x="814" y="408" width="3" height="4" fill="#ff4500"/>
<rect x="819" y="404" width="1" height="12" fill="#32cd32"/>
<rect x="818" y="405" width="3" height="11" fill="#32cd32"/>
<rect x="823" y="415" width="1" height="49" fill="#32cd32"/>
<rect x="822" y="415" width="3" height="24" fill="#32cd32"/>
<rect x="827" y="434" width="1" height="54" fill="#32cd32"/>
<rect x="826" y="438" width="3" height="50" fill="#32cd32"/>
<rect x="831" y="479" width="1" height="30" fill="#32cd32"/>
<rect x="830" y="480" width="3" height="4" fill="#32cd32"/>
<rect x="835" y="476" width="1" height="24" fill="#32cd32"/>
<rect x="834" y="482" width="3" height="10" fill="#32cd32"/>
<rect x="839" y="484" width="1" height="18" fill="#ff4500"/>
<rect x="838" y="484" width="3" height="8" fill="#ff4500"/>
<rect x="843" y="470" width="1" height="17" fill="#ff4500"/>
<rect x="842" y="474" width="3" height="11" fill="#ff4500"/>
<rect x="847" y="446" width="1" height="37" fill="#32cd32"/>
<rect x="846" y="474" width="3" height="6" fill="#32cd32"/>
<rect x="851" y="414" width="1" height="67" fill="#ff4500"/>
<rect x="850" y="414" width="3" height="67" fill="#ff4500"/>
<rect x="855" y="366" width="1" height="52" fill="#ff4500"/>
<rect x="854" y="379" width="3" height="36" fill="#ff4500"/>
<rect x="859" y="377" width="1" height="9" fill="#ff4500"/>
<rect x="858" y="378" width="3" height="2" fill="#ff4500"/>
<rect x="863" y="363" width="1" height="24" fill="#32cd32"/>
<rect x="862" y="378" width="3" height="7" fill="#32cd32"/>
<rect x="867" y="383" width="1" height="32" fill="#32cd32"/>
<rect x="866" y="384" width="3" height="23" fill="#32cd32"/>
<rect x="871" y="393" width="1" height="31" fill="#32cd32"/>
<rect x="870" y="405" width="3" height="8" fill="#32cd32"/>
<rect x="875" y="395" width="1" height="43" fill="#ff4500"/>
<rect x="874" y="409" width="3" height="5" fill="#ff4500"/>
<rect x="879" y="347" width="1" height="71" fill="#ff4500"/>
<rect x="878" y="360" width="3" height="50" fill="#ff4500"/>
<rect x="883" y="346" width="1" height="16" fill="#ff4500"/>
<rect x="882" y="347" width="3" height="14" fill="#ff4500"/>
<rect x="887" y="340" width="1" height="20" fill="#32cd32"/>
<rect x="886" y="347" width="3" height="10" fill="#32cd32"/>
<rect x="891" y="328" width="1" height="32" fill="#ff4500"/>
<rect x="890" y="337" width="3" height="22" fill="#ff4500"/>
<rect x="895" y="335" width="1" height="35" fill="#32cd32"/>
<rect x="894" y="337" width="3" height="23" fill="#32cd32"/>
<rect x="899" y="326" width="1" height="39" fill="#ff4500"/>
<rect x="898" y="328" width="3" height="33" fill="#ff4500"/>
<rect x="903" y="327" width="1" height="39" fill="#32cd32"/>
<rect x="902" y="328" width="3" height="30" fill="#32cd32"/>
<rect x="907" y="339" width="1" height="11" fill="#ff4500"/>
<rect x="906" y="344" width="3" height="6" fill="#ff4500"/>
<rect x="911" y="337" width="1" height="11" fill="#ff4500"/>
<rect x="910" y="343" width="3" height="2" fill="#ff4500"/>
<rect x="915" y="336" width="1" height="10" fill="#ff4500"/>
<rect x="914" y="337" width="3" height="8" fill="#ff4500"/>
<rect x="919" y="337" width="1" height="6" fill="#32cd32"/>
<rect x="918" y="337" width="3" height="3" fill="#32cd32"/>
<rect x="923" y="334" width="1" height="21" fill="#32cd32"/>
<rect x="922" y="339" width="3" height="15" fill="#32cd32"/>
<rect x="927" y="337" width="1" height="24" fill="#ff4500"/>
<rect x="926" y="349" width="3" height="4" fill="#ff4500"/>
<rect x="931" y="334" width="1" height="22" fill="#ff4500"/>
<rect x="930" y="337" width="3" height="14" fill="#ff4500"/>
<rect x="935" y="326" width="1" height="14" fill="#ff4500"/>
<rect x="934" y="330" width="3" height="9" fill="#ff4500"/>
<rect x="939" y="327" width="1" height="30" fill="#32cd32"/>
<rect x="938" y="329" width="3" height="23" fill="#32cd32"/>
<rect x="943" y="351" width="1" height="17" fill="#32cd32"/>
<rect x="942" y="351" width="3" height="16" fill="#32cd32"/>
<rect x="947" y="366" width="1" height="22" fill="#32cd32"/>
<rect x="946" y="366" width="3" height="7" fill="#32cd32"/>
<rect x="951" y="346" width="1" height="34" fill="#ff4500"/>
<rect x="950" y="348" width="3" height="25" fill="#ff4500"/>
<rect x="955" y="327" width="1" height="25" fill="#ff4500"/>
<rect x="954" y="339" width="3" height="10" fill="#ff4500"/>
<rect x="959" y="333" width="1" height="39" fill="#32cd32"/>
<rect x="958" y="340" width="3" height="28" fill="#32cd32"/>
<rect x="963" y="358" width="1" height="11" fill="#ff4500"/>
<rect x="962" y="364" width="3" height="4" fill="#ff4500"/>
<rect x="967" y="363" width="1" height="15" fill="#32cd32"/>
<rect x="966" y="364" width="3" height="5" fill="#32cd32"/>
<rect x="971" y="362" width="1" height="14" fill="#32cd32"/>
<rect x="970" y="368" width="3" height="4" fill="#32cd32"/>
<rect x="975" y="351" width="1" height="41" fill="#32cd32"/>
<rect x="974" y="370" width="3" height="11" fill="#32cd32"/>
<rect x="979" y="355" width="1" height="33" fill="#32cd32"/>
<rect x="978" y="380" width="3" height="6" fill="#32cd32"/>
<rect x="983" y="380" width="1" height="16" fill="#32cd32"/>
<rect x="982" y="384" width="3" height="7" fill="#32cd32"/>
<rect x="987" y="379" width="1" height="22" fill="#ff4500"/>
<rect x="986" y="383" width="3" height="8" fill="#ff4500"/>
<rect x="991" y="368" width="1" height="16" fill="#ff4500"/>
<rect x="990" y="369" width="3" height="14" fill="#ff4500"/>
<rect x="995" y="357" width="1" height="18" fill="#ff4500"/>
<rect x="994" y="360" width="3" height="11" fill="#ff4500"/>
<rect x="999" y="326" width="1" height="46" fill="#ff4500"/>
<rect x="998" y="329" width="3" height="32" fill="#ff4500"/>
<rect x="1003" y="308" width="1" height="29" fill="#ff4500"/>
<rect x="1002" y="323" width="3" height="7" fill="#ff4500"/>
<rect x="1007" y="314" width="1" height="12" fill="#ff4500"/>
<rect x="1006" y="317" width="3" height="7" fill="#ff4500"/>
<rect x="1011" y="311" width="1" height="6" fill="#ff4500"/>
<rect x="1010" y="311" width="3" height="1" fill="#ff4500"/>
<rect x="1015" y="299" width="1" height="13" fill="#ff4500"/>
<rect x="1014" y="309" width="3" height="3" fill="#ff4500"/>
<rect x="1019" y="308" width="1" height="9" fill="#ff4500"/>
<rect x="1018" y="309" width="3" height="1" fill="#ff4500"/>
<rect x="1023" y="309" width="1" height="16" fill="#32cd32"/>
<rect x="1022" y="309" width="3" height="12" fill="#32cd32"/>
<rect x="1027" y="301" width="1" height="23" fill="#ff4500"/>
<rect x="1026" y="303" width="3" height="18" fill="#ff4500"/>
<rect x="1031" y="285" width="1" height="20" fill="#ff4500"/>
<rect x="1030" y="302" width="3" height="2" fill="#ff4500"/>
<rect x="1035" y="292" width="1" height="11" fill="#ff4500"/>
<rect x="1034" y="300" width="3" height="3" fill="#ff4500"/>
<rect x="1039" y="290" width="1" height="11" fill="#ff4500"/>
<rect x="1038" y="292" width="3" height="8" fill="#ff4500"/>
<rect x="1043" y="289" width="1" height="9" fill="#32cd32"/>
<rect x="1042" y="292" width="3" height="5" fill="#32cd32"/>
<rect x="1047" y="281" width="1" height="17" fill="#ff4500"/>
<rect x="1046" y="282" width="3" height="16" fill="#ff4500"/>
<rect x="1051" y="273" width="1" height="30" fill="#32cd32"/>
<rect x="1050" y="282" width="3" height="17" fill="#32cd32"/>
<rect x="1055" y="280" width="1" height="21" fill="#ff4500"/>
<rect x="1054" y="282" width="3" height="17" fill="#ff4500"/>
<rect x="1059" y="276" width="1" height="11" fill="#ff4500"/>
<rect x="1058" y="276" width="3" height="8" fill="#ff4500"/>
<rect x="1063" y="268" width="1" height="11" fill="#ff4500"/>
<rect x="1062" y="269" width="3" height="9" fill="#ff4500"/>
<rect x="1067" y="269" width="1" height="9" fill="#32cd32"/>
<rect x="1066" y="269" width="3" height="8" fill="#32cd32"/>
<rect x="1071" y="269" width="1" height="8" fill="#ff4500"/>
<rect x="1070" y="274" width="3" height="2" fill="#ff4500"/>
<rect x="1075" y="265" width="1" height="19" fill="#32cd32"/>
<rect x="1074" y="274" width="3" height="4" fill="#32cd32"/>
<rect x="1079" y="259" width="1" height="19" fill="#ff4500"/>
<rect x="1078" y="265" width="3" height="12" fill="#ff4500"/>
<rect x="1083" y="262" width="1" height="15" fill="#32cd32"/>
<rect x="1082" y="265" width="3" height="12" fill="#32cd32"/>
<rect x="1087" y="272" width="1" height="16" fill="#32cd32"/>
<rect x="1086" y="275" width="3" height="5" fill="#32cd32"/>
<rect x="1091" y="279" width="1" height="7" fill="#32cd32"/>
<rect x="1090" y="280" width="3" height="6" fill="#32cd32"/>
<rect x="1095" y="280" width="1" height="11" fill="#ff4500"/>
<rect x="1094" y="284" width="3" height="1" fill="#ff4500"/>
<rect x="1099" y="271" width="1" height="20" fill="#ff4500"/>
<rect x="1098" y="272" width="3" height="13" fill="#ff4500"/>
<rect x="1103" y="260" width="1" height="20" fill="#ff4500"/>
<rect x="1102" y="265" width="3" height="6" fill="#ff4500"/>
<rect x="1107" y="257" width="1" height="9" fill="#ff4500"/>
<rect x="1106" y="264" width="3" height="2" fill="#ff4500"/>
<rect x="1111" y="259" width="1" height="9" fill="#000000"/>
<rect x="1110" y="265" width="3" height="1" fill="#000000"/>
<rect x="1115" y="260" width="1" height="6" fill="#ff4500"/>
<rect x="1114" y="262" width="3" height="2" fill="#ff4500"/>
<rect x="1119" y="258" width="1" height="9" fill="#32cd32"/>
<rect x="1118" y="261" width="3" height="5" fill="#32cd32"/>
<rect x="1123" y="264" width="1" height="13" fill="#32cd32"/>
<rect x="1122" y="265" width="3" height="1" fill="#32cd32"/>
<rect x="1127" y="259" width="1" height="13" fill="#ff4500"/>
<rect x="1126" y="265" width="3" height="3" fill="#ff4500"/>
<rect x="1131" y="259" width="1" height="7" fill="#ff4500"/>
<rect x="1130" y="260" width="3" height="5" fill="#ff4500"/>
<rect x="1135" y="263" width="1" height="9" fill="#32cd32"/>
<rect x="1134" y="265" width="3" height="7" fill="#32cd32"/>
<rect x="1139" y="269" width="1" height="13" fill="#32cd32"/>
<rect x="1138" y="269" width="3" height="10" fill="#32cd32"/>
<rect x="1143" y="276" width="1" height="6" fill="#32cd32"/>
<rect x="1142" y="278" width="3" height="3" fill="#32cd32"/>
<rect x="1147" y="275" width="1" height="11" fill="#ff4500"/>
<rect x="1146" y="279" width="3" height="2" fill="#ff4500"/>
<rect x="1151" y="267" width="1" height="16" fill="#ff4500"/>
<rect x="1150" y="269" width="3" height="12" fill="#ff4500"/>
<rect x="1155" y="265" width="1" height="11" fill="#ff4500"/>
<rect x="1154" y="266" width="3" height="4" fill="#ff4500"/>
<rect x="1159" y="265" width="1" height="12" fill="#32cd32"/>
<rect x="1158" y="266" width="3" height="6" fill="#32cd32"/>
<rect x="1163" y="258" width="1" height="14" fill="#ff4500"/>
<rect x="1162" y="259" width="3" height="13" fill="#ff4500"/>
<rect x="1167" y="256" width="1" height="6" fill="#32cd32"/>
<rect x="1166" y="259" width="3" height="3" fill="#32cd32"/>
<rect x="1171" y="258" width="1" height="15" fill="#32cd32"/>
<rect x="1170" y="261" width="3" height="11" fill="#32cd32"/>
<rect x="1175" y="250" width="1" height="24" fill="#ff4500"/>
<rect x="1174" y="254" width="3" height="18" fill="#ff4500"/>
<rect x="1179" y="244" width="1" height="18" fill="#ff4500"/>
<rect x="1178" y="253" width="3" height="2" fill="#ff4500"/>
<rect x="1183" y="245" width="1" height="9" fill="#ff4500"/>
<rect x="1182" y="246" width="3" height="8" fill="#ff4500"/>
<rect x="1187" y="245" width="1" height="9" fill="#32cd32"/>
<rect x="1186" y="246" width="3" height="2" fill="#32cd32"/>
<rect x="1191" y="241" width="1" height="7" fill="#ff4500"/>
<rect x="1190" y="243" width="3" height="5" fill="#ff4500"/>
<rect x="1195" y="242" width="1" height="8" fill="#32cd32"/>
<rect x="1194" y="243" width="3" height="4" fill="#32cd32"/>
<rect x="1199" y="234" width="1" height="16" fill="#ff4500"/>
<rect x="1198" y="239" width="3" height="8" fill="#ff4500"/>
<rect x="1203" y="232" width="1" height="13" fill="#ff4500"/>
<rect x="1202" y="236" width="3" height="4" fill="#ff4500"/>
<rect x="1207" y="233" width="1" height="13" fill="#32cd32"/>
<rect x="1206" y="237" width="3" height="9" fill="#32cd32"/>
<rect x="1211" y="243" width="1" height="11" fill="#32cd32"/>
<rect x="1210" y="245" width="3" height="5" fill="#32cd32"/>
<rect x="1215" y="248" width="1" height="10" fill="#32cd32"/>
<rect x="1214" y="249" width="3" height="8" fill="#32cd32"/>
<rect x="1219" y="249" width="1" height="11" fill="#ff4500"/>
<rect x="1218" y="251" width="3" height="5" fill="#ff4500"/>
<rect x="1223" y="239" width="1" height="17" fill="#ff4500"/>
<rect x="1222" y="240" width="3" height="12" fill="#ff4500"/>
<rect x="1227" y="215" width="1" height="27" fill="#ff4500"/>
<rect x="1226" y="227" width="3" height="15" fill="#ff4500"/>
<rect x="1231" y="220" width="1" height="14" fill="#ff4500"/>
<rect x="1230" y="226" width="3" height="2" fill="#ff4500"/>
<rect x="1235" y="216" width="1" height="11" fill="#ff4500"/>
<rect x="1234" y="218" width="3" height="9" fill="#ff4500"/>
<rect x="1239" y="218" width="1" height="4" fill="#32cd32"/>
<rect x="1238" y="218" width="3" height="3" fill="#32cd32"/>
<rect x="1243" y="213" width="1" height="9" fill="#ff4500"/>
<rect x="1242" y="213" width="3" height="8" fill="#ff4500"/>
<rect x="1247" y="199" width="1" height="17" fill="#ff4500"/>
<rect x="1246" y="200" width="3" height="14" fill="#ff4500"/>
<rect x="1251" y="188" width="1" height="14" fill="#ff4500"/>
<rect x="1250" y="196" width="3" height="5" fill="#ff4500"/>
<rect x="1255" y="191" width="1" height="9" fill="#ff4500"/>
<rect x="1254" y="192" width="3" height="4" fill="#ff4500"/>
<rect x="1259" y="191" width="1" height="5" fill="#32cd32"/>
<rect x="1258" y="193" width="3" height="3" fill="#32cd32"/>
<rect x="1263" y="194" width="1" height="8" fill="#32cd32"/>
<rect x="1262" y="195" width="3" height="6" fill="#32cd32"/>
<rect x="1267" y="196" width="1" height="4" fill="#ff4500"/>
<rect x="1266" y="198" width="3" height="2" fill="#ff4500"/>
<rect x="1271" y="197" width="1" height="9" fill="#32cd32"/>
<rect x="1270" y="198" width="3" height="4" fill="#32cd32"/>
<rect x="1275" y="199" width="1" height="8" fill="#32cd32"/>
<rect x="1274" y="201" width="3" height="3" fill="#32cd32"/>
<rect x="1279" y="199" width="1" height="5" fill="#ff4500"/>
<rect x="1278" y="200" width="3" height="3" fill="#ff4500"/>
<rect x="1283" y="199" width="1" height="5" fill="#ff4500"/>
<rect x="1282" y="200" width="3" height="3" fill="#ff4500"/>
</g>
<path d="M1283.5 39 L1295.5 39 L1289.5 45 Z" fill="#c0c0c0"/>
<g font-family="'Liberation Sans', sans-serif">
<rect x="1613" y="60" width="2" height="1" fill="#000"/>
<text x="1619.2" y="64.7" fill="#000" font-size="12.8">2819.110</text>
<rect x="1613" y="109" width="2" height="1" fill="#000"/>
<text x="1619.2" y="113.7" fill="#000" font-size="12.8">2764.475</text>
<rect x="1613" y="158" width="2" height="1" fill="#000"/>
<text x="1619.2" y="162.7" fill="#000" font-size="12.8">2708.725</text>
<rect x="1613" y="207" width="2" height="1" fill="#000"/>
<text x="1619.2" y="211.7" fill="#000" font-size="12.8">2654.090</text>
<rect x="1613" y="256" width="2" height="1" fill="#000"/>
<text x="1619.2" y="260.7" fill="#000" font-size="12.8">2599.455</text>
<rect x="1613" y="305" width="2" height="1" fill="#000"/>
<text x="1619.2" y="309.7" fill="#000" font-size="12.8">2544.820</text>
<rect x="1613" y="354" width="2" height="1" fill="#000"/>
<text x="1619.2" y="358.7" fill="#000" font-size="12.8">2490.185</text>
<rect x="1613" y="403" width="2" height="1" fill="#000"/>
<text x="1619.2" y="407.7" fill="#000" font-size="12.8">2434.435</text>
<rect x="1613" y="452" width="2" height="1" fill="#000"/>
<text x="1619.2" y="456.7" fill="#000" font-size="12.8">2379.800</text>
<rect x="1613" y="501" width="2" height="1" fill="#000"/>
<text x="1619.2" y="505.7" fill="#000" font-size="12.8">2325.165</text>
<rect x="1614" y="90" width="63" height="14" fill="#ff0000"/>
<text x="1619.2" y="102.4" fill="#ffffff" font-size="12.8">2779.249</text>
<rect x="1614" y="173" width="63" height="14" fill="#ff0000"/>
<text x="1619.2" y="185.4" fill="#ffffff" font-size="12.8">2685.992</text>
<rect x="1614" y="193" width="63" height="14" fill="#000000"/>
<text x="1619.2" y="205.4" fill="#ffffff" font-size="12.8">2662.500</text>
<rect x="1614" y="256" width="63" height="14" fill="#00ff7f"/>
<text x="1619.2" y="268.4" fill="#ffffff" font-size="12.8">2592.135</text>
<rect x="1614" y="311" width="63" height="14" fill="#0000ff"/>
<text x="1619.2" y="323.4" fill="#ffffff" font-size="12.8">2530.771</text>
<rect x="1614" y="347" width="63" height="14" fill="#0000cd"/>
<text x="1619.2" y="359.4" fill="#ffffff" font-size="12.8">2490.208</text>
<rect x="1613" y="545" width="2" height="1" fill="#000"/>
<text x="1616.5" y="535.6" fill="#000" font-size="12.4">34.1727</text>
<text x="1616.5" y="549.8" fill="#000" font-size="12.4">0.00</text>
<text x="1616.5" y="578.5" fill="#000" font-size="12.4">-56.0395</text>
<rect x="1613" y="522" width="2" height="1" fill="#000"/>
<rect x="1613" y="582" width="2" height="1" fill="#000"/>
<text x="1616.5" y="597.5" fill="#000" font-size="12.4">100</text>
<text x="1616.5" y="627" fill="#000" font-size="12.4">70</text>
<text x="1616.5" y="677" fill="#000" font-size="12.4">30</text>
<text x="1616.5" y="706.5" fill="#000" font-size="12.4">0</text>
<rect x="1613" y="622" width="2" height="1" fill="#000"/>
<rect x="1613" y="672" width="2" height="1" fill="#000"/>
<rect x="1613" y="585" width="2" height="1" fill="#000"/>
<rect x="7" y="710" width="1" height="3" fill="#000"/>
<text x="6.5" y="724.7" fill="#000" font-size="12.4">7 Nov 2018</text>
<rect x="103" y="710" width="1" height="3" fill="#000"/>
<text x="102.5" y="724.7" fill="#000" font-size="12.4">13 Nov 04:00</text>
<rect x="199" y="710" width="1" height="3" fill="#000"/>
<text x="198.5" y="724.7" fill="#000" font-size="12.4">19 Nov 00:00</text>
<rect x="295" y="710" width="1" height="3" fill="#000"/>
<text x="294.5" y="724.7" fill="#000" font-size="12.4">23 Nov 00:00</text>
<rect x="391" y="710" width="1" height="3" fill="#000"/>
<text x="390.5" y="724.7" fill="#000" font-size="12.4">29 Nov 00:00</text>
<rect x="487" y="710" width="1" height="3" fill="#000"/>
<text x="486.5" y="724.7" fill="#000" font-size="12.4">4 Dec 20:00</text>
<rect x="583" y="710" width="1" height="3" fill="#000"/>
<text x="582.5" y="724.7" fill="#000" font-size="12.4">10 Dec 20:00</text>
<rect x="679" y="710" width="1" height="3" fill="#000"/>
<text x="678.5" y="724.7" fill="#000" font-size="12.4">14 Dec 20:00</text>
<rect x="775" y="710" width="1" height="3" fill="#000"/>
<text x="774.5" y="724.7" fill="#000" font-size="12.4">20 Dec 16:00</text>
<rect x="871" y="710" width="1" height="3" fill="#000"/>
<text x="870.5" y="724.7" fill="#000" font-size="12.4">27 Dec 12:00</text>
<rect x="967" y="710" width="1" height="3" fill="#000"/>
<text x="966.5" y="724.7" fill="#000" font-size="12.4">3 Jan 04:00</text>
<rect x="1063" y="710" width="1" height="3" fill="#000"/>
<text x="1062.5" y="724.7" fill="#000" font-size="12.4">9 Jan 00:00</text>
<rect x="1159" y="710" width="1" height="3" fill="#000"/>
<text x="1158.5" y="724.7" fill="#000" font-size="12.4">14 Jan 20:00</text>
<rect x="1255" y="710" width="1" height="3" fill="#000"/>
<text x="1254.5" y="724.7" fill="#000" font-size="12.4">18 Jan 20:00</text>
</g>
<g shape-rendering="crispEdges">
<rect x="7" y="539" width="1" height="7" fill="#c0c0c0"/>
<rect x="11" y="539" width="1" height="7" fill="#c0c0c0"/>
<rect x="15" y="539" width="1" height="7" fill="#c0c0c0"/>
<rect x="19" y="539" width="1" height="7" fill="#c0c0c0"/>
<rect x="23" y="539" width="1" height="7" fill="#c0c0c0"/>
<rect x="27" y="539" width="1" height="7" fill="#c0c0c0"/>
<rect x="31" y="539" width="1" height="7" fill="#c0c0c0"/>
<rect x="35" y="539" width="1" height="7" fill="#c0c0c0"/>
<rect x="39" y="539" width="1" height="7" fill="#c0c0c0"/>
<rect x="43" y="539" width="1" height="7" fill="#c0c0c0"/>
<rect x="47" y="539" width="1" height="7" fill="#c0c0c0"/>
<rect x="51" y="539" width="1" height="7" fill="#c0c0c0"/>
<rect x="55" y="539" width="1" height="7" fill="#c0c0c0"/>
<rect x="59" y="539" width="1" height="7" fill="#c0c0c0"/>
<rect x="63" y="539" width="1" height="7" fill="#c0c0c0"/>
<rect x="67" y="539" width="1" height="7" fill="#c0c0c0"/>
<rect x="71" y="539" width="1" height="7" fill="#c0c0c0"/>
<rect x="75" y="539" width="1" height="7" fill="#c0c0c0"/>
<rect x="79" y="539" width="1" height="7" fill="#c0c0c0"/>
<rect x="83" y="541" width="1" height="5" fill="#c0c0c0"/>
<rect x="87" y="544" width="1" height="2" fill="#c0c0c0"/>
<rect x="95" y="545" width="1" height="4" fill="#c0c0c0"/>
<rect x="99" y="545" width="1" height="4" fill="#c0c0c0"/>
<rect x="103" y="545" width="1" height="6" fill="#c0c0c0"/>
<rect x="107" y="545" width="1" height="6" fill="#c0c0c0"/>
<rect x="111" y="545" width="1" height="6" fill="#c0c0c0"/>
<rect x="115" y="545" width="1" height="7" fill="#c0c0c0"/>
<rect x="119" y="545" width="1" height="8" fill="#c0c0c0"/>
<rect x="123" y="545" width="1" height="9" fill="#c0c0c0"/>
<rect x="127" y="545" width="1" height="9" fill="#c0c0c0"/>
<rect x="131" y="545" width="1" height="10" fill="#c0c0c0"/>
<rect x="135" y="545" width="1" height="10" fill="#c0c0c0"/>
<rect x="139" y="545" width="1" height="10" fill="#c0c0c0"/>
<rect x="143" y="545" width="1" height="10" fill="#c0c0c0"/>
<rect x="147" y="545" width="1" height="11" fill="#c0c0c0"/>
<rect x="151" y="545" width="1" height="11" fill="#c0c0c0"/>
<rect x="155" y="545" width="1" height="11" fill="#c0c0c0"/>
<rect x="159" y="545" width="1" height="11" fill="#c0c0c0"/>
<rect x="163" y="545" width="1" height="11" fill="#c0c0c0"/>
<rect x="167" y="545" width="1" height="11" fill="#c0c0c0"/>
<rect x="171" y="545" width="1" height="11" fill="#c0c0c0"/>
<rect x="175" y="545" width="1" height="10" fill="#c0c0c0"/>
<rect x="179" y="545" width="1" height="9" fill="#c0c0c0"/>
<rect x="183" y="545" width="1" height="7" fill="#c0c0c0"/>
<rect x="187" y="545" width="1" height="6" fill="#c0c0c0"/>
<rect x="191" y="545" width="1" height="5" fill="#c0c0c0"/>
<rect x="195" y="545" width="1" height="4" fill="#c0c0c0"/>
<rect x="199" y="545" width="1" height="4" fill="#c0c0c0"/>
<rect x="203" y="545" width="1" height="4" fill="#c0c0c0"/>
<rect x="207" y="545" width="1" height="3" fill="#c0c0c0"/>
<rect x="211" y="545" width="1" height="3" fill="#c0c0c0"/>
<rect x="215" y="545" width="1" height="3" fill="#c0c0c0"/>
<rect x="219" y="545" width="1" height="3" fill="#c0c0c0"/>
<rect x="223" y="545" width="1" height="6" fill="#c0c0c0"/>
<rect x="227" y="545" width="1" height="8" fill="#c0c0c0"/>
<rect x="231" y="545" width="1" height="9" fill="#c0c0c0"/>
<rect x="235" y="545" width="1" height="11" fill="#c0c0c0"/>
<rect x="239" y="545" width="1" height="12" fill="#c0c0c0"/>
<rect x="243" y="545" width="1" height="14" fill="#c0c0c0"/>
<rect x="247" y="545" width="1" height="15" fill="#c0c0c0"/>
<rect x="251" y="545" width="1" height="16" fill="#c0c0c0"/>
<rect x="255" y="545" width="1" height="16" fill="#c0c0c0"/>
<rect x="259" y="545" width="1" height="15" fill="#c0c0c0"/>
<rect x="263" y="545" width="1" height="15" fill="#c0c0c0"/>
<rect x="267" y="545" width="1" height="14" fill="#c0c0c0"/>
<rect x="271" y="545" width="1" height="14" fill="#c0c0c0"/>
<rect x="275" y="545" width="1" height="14" fill="#c0c0c0"/>
<rect x="279" y="545" width="1" height="14" fill="#c0c0c0"/>
<rect x="283" y="545" width="1" height="14" fill="#c0c0c0"/>
<rect x="287" y="545" width="1" height="14" fill="#c0c0c0"/>
<rect x="291" y="545" width="1" height="14" fill="#c0c0c0"/>
<rect x="295" y="545" width="1" height="13" fill="#c0c0c0"/>
<rect x="299" y="545" width="1" height="13" fill="#c0c0c0"/>
<rect x="303" y="545" width="1" height="12" fill="#c0c0c0"/>
<rect x="307" y="545" width="1" height="12" fill="#c0c0c0"/>
<rect x="311" y="545" width="1" height="11" fill="#c0c0c0"/>
<rect x="315" y="545" width="1" height="11" fill="#c0c0c0"/>
<rect x="319" y="545" width="1" height="10" fill="#c0c0c0"/>
<rect x="323" y="545" width="1" height="9" fill="#c0c0c0"/>
<rect x="327" y="545" width="1" height="8" fill="#c0c0c0"/>
<rect x="331" y="545" width="1" height="7" fill="#c0c0c0"/>
<rect x="335" y="545" width="1" height="5" fill="#c0c0c0"/>
<rect x="339" y="545" width="1" height="4" fill="#c0c0c0"/>
<rect x="343" y="545" width="1" height="3" fill="#c0c0c0"/>
<rect x="347" y="545" width="1" height="3" fill="#c0c0c0"/>
<rect x="351" y="545" width="1" height="2" fill="#c0c0c0"/>
<rect x="355" y="545" width="1" height="2" fill="#c0c0c0"/>
<rect x="367" y="544" width="1" height="2" fill="#c0c0c0"/>
<rect x="371" y="543" width="1" height="3" fill="#c0c0c0"/>
<rect x="375" y="543" width="1" height="3" fill="#c0c0c0"/>
<rect x="379" y="542" width="1" height="4" fill="#c0c0c0"/>
<rect x="383" y="541" width="1" height="5" fill="#c0c0c0"/>
<rect x="387" y="538" width="1" height="8" fill="#c0c0c0"/>
<rect x="391" y="536" width="1" height="10" fill="#c0c0c0"/>
<rect x="395" y="535" width="1" height="11" fill="#c0c0c0"/>
<rect x="399" y="534" width="1" height="12" fill="#c0c0c0"/>
<rect x="403" y="534" width="1" height="12" fill="#c0c0c0"/>
<rect x="407" y="534" width="1" height="12" fill="#c0c0c0"/>
<rect x="411" y="533" width="1" height="13" fill="#c0c0c0"/>
<rect x="415" y="533" width="1" height="13" fill="#c0c0c0"/>
<rect x="419" y="533" width="1" height="13" fill="#c0c0c0"/>
<rect x="423" y="533" width="1" height="13" fill="#c0c0c0"/>
<rect x="427" y="533" width="1" height="13" fill="#c0c0c0"/>
<rect x="431" y="533" width="1" height="13" fill="#c0c0c0"/>
<rect x="435" y="533" width="1" height="13" fill="#c0c0c0"/>
<rect x="439" y="533" width="1" height="13" fill="#c0c0c0"/>
<rect x="443" y="530" width="1" height="16" fill="#c0c0c0"/>
<rect x="447" y="528" width="1" height="18" fill="#c0c0c0"/>
<rect x="451" y="527" width="1" height="19" fill="#c0c0c0"/>
<rect x="455" y="528" width="1" height="18" fill="#c0c0c0"/>
<rect x="459" y="529" width="1" height="17" fill="#c0c0c0"/>
<rect x="463" y="529" width="1" height="17" fill="#c0c0c0"/>
<rect x="467" y="530" width="1" height="16" fill="#c0c0c0"/>
<rect x="471" y="532" width="1" height="14" fill="#c0c0c0"/>
<rect x="475" y="533" width="1" height="13" fill="#c0c0c0"/>
<rect x="479" y="534" width="1" height="12" fill="#c0c0c0"/>
<rect x="483" y="537" width="1" height="9" fill="#c0c0c0"/>
<rect x="487" y="541" width="1" height="5" fill="#c0c0c0"/>
<rect x="491" y="544" width="1" height="2" fill="#c0c0c0"/>
<rect x="499" y="545" width="1" height="3" fill="#c0c0c0"/>
<rect x="503" y="545" width="1" height="4" fill="#c0c0c0"/>
<rect x="507" y="545" width="1" height="7" fill="#c0c0c0"/>
<rect x="511" y="545" width="1" height="9" fill="#c0c0c0"/>
<rect x="515" y="545" width="1" height="11" fill="#c0c0c0"/>
<rect x="519" y="545" width="1" height="12" fill="#c0c0c0"/>
<rect x="523" y="545" width="1" height="14" fill="#c0c0c0"/>
<rect x="527" y="545" width="1" height="16" fill="#c0c0c0"/>
<rect x="531" y="545" width="1" height="15" fill="#c0c0c0"/>
<rect x="535" y="545" width="1" height="14" fill="#c0c0c0"/>
<rect x="539" y="545" width="1" height="13" fill="#c0c0c0"/>
<rect x="543" y="545" width="1" height="13" fill="#c0c0c0"/>
<rect x="547" y="545" width="1" height="14" fill="#c0c0c0"/>
<rect x="551" y="545" width="1" height="14" fill="#c0c0c0"/>
<rect x="555" y="545" width="1" height="14" fill="#c0c0c0"/>
<rect x="559" y="545" width="1" height="16" fill="#c0c0c0"/>
<rect x="563" y="545" width="1" height="19" fill="#c0c0c0"/>
<rect x="567" y="545" width="1" height="19" fill="#c0c0c0"/>
<rect x="571" y="545" width="1" height="18" fill="#c0c0c0"/>
<rect x="575" y="545" width="1" height="19" fill="#c0c0c0"/>
<rect x="579" y="545" width="1" height="19" fill="#c0c0c0"/>
<rect x="583" y="545" width="1" height="19" fill="#c0c0c0"/>
<rect x="587" y="545" width="1" height="18" fill="#c0c0c0"/>
<rect x="591" y="545" width="1" height="17" fill="#c0c0c0"/>
<rect x="595" y="545" width="1" height="14" fill="#c0c0c0"/>
<rect x="599" y="545" width="1" height="12" fill="#c0c0c0"/>
<rect x="603" y="545" width="1" height="11" fill="#c0c0c0"/>
<rect x="607" y="545" width="1" height="10" fill="#c0c0c0"/>
<rect x="611" y="545" width="1" height="10" fill="#c0c0c0"/>
<rect x="615" y="545" width="1" height="9" fill="#c0c0c0"/>
<rect x="619" y="545" width="1" height="7" fill="#c0c0c0"/>
<rect x="623" y="545" width="1" height="6" fill="#c0c0c0"/>
<rect x="627" y="545" width="1" height="4" fill="#c0c0c0"/>
<rect x="631" y="545" width="1" height="4" fill="#c0c0c0"/>
<rect x="635" y="545" width="1" height="3" fill="#c0c0c0"/>
<rect x="639" y="545" width="1" height="3" fill="#c0c0c0"/>
<rect x="643" y="545" width="1" height="3" fill="#c0c0c0"/>
<rect x="647" y="545" width="1" height="3" fill="#c0c0c0"/>
<rect x="651" y="545" width="1" height="3" fill="#c0c0c0"/>
<rect x="655" y="545" width="1" height="3" fill="#c0c0c0"/>
<rect x="659" y="545" width="1" height="3" fill="#c0c0c0"/>
<rect x="663" y="545" width="1" height="3" fill="#c0c0c0"/>
<rect x="667" y="545" width="1" height="5" fill="#c0c0c0"/>
<rect x="671" y="545" width="1" height="6" fill="#c0c0c0"/>
<rect x="675" y="545" width="1" height="7" fill="#c0c0c0"/>
<rect x="679" y="545" width="1" height="9" fill="#c0c0c0"/>
<rect x="683" y="545" width="1" height="10" fill="#c0c0c0"/>
<rect x="687" y="545" width="1" height="11" fill="#c0c0c0"/>
<rect x="691" y="545" width="1" height="11" fill="#c0c0c0"/>
<rect x="695" y="545" width="1" height="11" fill="#c0c0c0"/>
<rect x="699" y="545" width="1" height="11" fill="#c0c0c0"/>
<rect x="703" y="545" width="1" height="13" fill="#c0c0c0"/>
<rect x="707" y="545" width="1" height="15" fill="#c0c0c0"/>
<rect x="711" y="545" width="1" height="16" fill="#c0c0c0"/>
<rect x="715" y="545" width="1" height="17" fill="#c0c0c0"/>
<rect x="719" y="545" width="1" height="17" fill="#c0c0c0"/>
<rect x="723" y="545" width="1" height="16" fill="#c0c0c0"/>
<rect x="727" y="545" width="1" height="17" fill="#c0c0c0"/>
<rect x="731" y="545" width="1" height="17" fill="#c0c0c0"/>
<rect x="735" y="545" width="1" height="16" fill="#c0c0c0"/>
<rect x="739" y="545" width="1" height="15" fill="#c0c0c0"/>
<rect x="743" y="545" width="1" height="15" fill="#c0c0c0"/>
<rect x="747" y="545" width="1" height="15" fill="#c0c0c0"/>
<rect x="751" y="545" width="1" height="16" fill="#c0c0c0"/>
<rect x="755" y="545" width="1" height="17" fill="#c0c0c0"/>
<rect x="759" y="545" width="1" height="18" fill="#c0c0c0"/>
<rect x="763" y="545" width="1" height="20" fill="#c0c0c0"/>
<rect x="767" y="545" width="1" height="20" fill="#c0c0c0"/>
<rect x="771" y="545" width="1" height="20" fill="#c0c0c0"/>
<rect x="775" y="545" width="1" height="22" fill="#c0c0c0"/>
<rect x="779" y="545" width="1" height="22" fill="#c0c0c0"/>
<rect x="783" y="545" width="1" height="21" fill="#c0c0c0"/>
<rect x="787" y="545" width="1" height="21" fill="#c0c0c0"/>
<rect x="791" y="545" width="1" height="21" fill="#c0c0c0"/>
<rect x="795" y="545" width="1" height="22" fill="#c0c0c0"/>
<rect x="799" y="545" width="1" height="22" fill="#c0c0c0"/>
<rect x="803" y="545" width="1" height="23" fill="#c0c0c0"/>
<rect x="807" y="545" width="1" height="26" fill="#c0c0c0"/>
<rect x="811" y="545" width="1" height="26" fill="#c0c0c0"/>
<rect x="815" y="545" width="1" height="26" fill="#c0c0c0"/>
<rect x="819" y="545" width="1" height="25" fill="#c0c0c0"/>
<rect x="823" y="545" width="1" height="26" fill="#c0c0c0"/>
<rect x="827" y="545" width="1" height="29" fill="#c0c0c0"/>
<rect x="831" y="545" width="1" height="31" fill="#c0c0c0"/>
<rect x="835" y="545" width="1" height="34" fill="#c0c0c0"/>
<rect x="839" y="545" width="1" height="35" fill="#c0c0c0"/>
<rect x="843" y="545" width="1" height="34" fill="#c0c0c0"/>
<rect x="847" y="545" width="1" height="34" fill="#c0c0c0"/>
<rect x="851" y="545" width="1" height="30" fill="#c0c0c0"/>
<rect x="855" y="545" width="1" height="24" fill="#c0c0c0"/>
<rect x="859" y="545" width="1" height="20" fill="#c0c0c0"/>
<rect x="863" y="545" width="1" height="15" fill="#c0c0c0"/>
<rect x="867" y="545" width="1" height="13" fill="#c0c0c0"/>
<rect x="871" y="545" width="1" height="12" fill="#c0c0c0"/>
<rect x="875" y="545" width="1" height="11" fill="#c0c0c0"/>
<rect x="879" y="545" width="1" height="7" fill="#c0c0c0"/>
<rect x="883" y="545" width="1" height="4" fill="#c0c0c0"/>
<rect x="887" y="545" width="1" height="2" fill="#c0c0c0"/>
<rect x="891" y="543" width="1" height="3" fill="#c0c0c0"/>
<rect x="895" y="542" width="1" height="4" fill="#c0c0c0"/>
<rect x="899" y="539" width="1" height="7" fill="#c0c0c0"/>
<rect x="903" y="539" width="1" height="7" fill="#c0c0c0"/>
<rect x="907" y="538" width="1" height="8" fill="#c0c0c0"/>
<rect x="911" y="537" width="1" height="9" fill="#c0c0c0"/>
<rect x="915" y="536" width="1" height="10" fill="#c0c0c0"/>
<rect x="919" y="536" width="1" height="10" fill="#c0c0c0"/>
<rect x="923" y="536" width="1" height="10" fill="#c0c0c0"/>
<rect x="927" y="537" width="1" height="9" fill="#c0c0c0"/>
<rect x="931" y="536" width="1" height="10" fill="#c0c0c0"/>
<rect x="935" y="536" width="1" height="10" fill="#c0c0c0"/>
<rect x="939" y="536" width="1" height="10" fill="#c0c0c0"/>
<rect x="943" y="537" width="1" height="9" fill="#c0c0c0"/>
<rect x="947" y="540" width="1" height="6" fill="#c0c0c0"/>
<rect x="951" y="541" width="1" height="5" fill="#c0c0c0"/>
<rect x="955" y="540" width="1" height="6" fill="#c0c0c0"/>
<rect x="959" y="541" width="1" height="5" fill="#c0c0c0"/>
<rect x="963" y="542" width="1" height="4" fill="#c0c0c0"/>
<rect x="967" y="543" width="1" height="3" fill="#c0c0c0"/>
<rect x="971" y="544" width="1" height="2" fill="#c0c0c0"/>
<rect x="975" y="544" width="1" height="2" fill="#c0c0c0"/>
<rect x="983" y="545" width="1" height="2" fill="#c0c0c0"/>
<rect x="987" y="545" width="1" height="3" fill="#c0c0c0"/>
<rect x="991" y="545" width="1" height="4" fill="#c0c0c0"/>
<rect x="995" y="545" width="1" height="2" fill="#c0c0c0"/>
<rect x="999" y="545" width="1" height="2" fill="#c0c0c0"/>
<rect x="1003" y="544" width="1" height="2" fill="#c0c0c0"/>
<rect x="1007" y="542" width="1" height="4" fill="#c0c0c0"/>
<rect x="1011" y="540" width="1" height="6" fill="#c0c0c0"/>
<rect x="1015" y="538" width="1" height="8" fill="#c0c0c0"/>
<rect x="1019" y="537" width="1" height="9" fill="#c0c0c0"/>
<rect x="1023" y="536" width="1" height="10" fill="#c0c0c0"/>
<rect x="1027" y="536" width="1" height="10" fill="#c0c0c0"/>
<rect x="1031" y="535" width="1" height="11" fill="#c0c0c0"/>
<rect x="1035" y="534" width="1" height="12" fill="#c0c0c0"/>
<rect x="1039" y="534" width="1" height="12" fill="#c0c0c0"/>
<rect x="1043" y="533" width="1" height="13" fill="#c0c0c0"/>
<rect x="1047" y="533" width="1" height="13" fill="#c0c0c0"/>
<rect x="1051" y="533" width="1" height="13" fill="#c0c0c0"/>
<rect x="1055" y="533" width="1" height="13" fill="#c0c0c0"/>
<rect x="1059" y="532" width="1" height="14" fill="#c0c0c0"/>
<rect x="1063" y="532" width="1" height="14" fill="#c0c0c0"/>
<rect x="1067" y="532" width="1" height="14" fill="#c0c0c0"/>
<rect x="1071" y="532" width="1" height="14" fill="#c0c0c0"/>
<rect x="1075" y="531" width="1" height="15" fill="#c0c0c0"/>
<rect x="1079" y="531" width="1" height="15" fill="#c0c0c0"/>
<rect x="1083" y="532" width="1" height="14" fill="#c0c0c0"/>
<rect x="1087" y="533" width="1" height="13" fill="#c0c0c0"/>
<rect x="1091" y="534" width="1" height="12" fill="#c0c0c0"/>
<rect x="1095" y="534" width="1" height="12" fill="#c0c0c0"/>
<rect x="1099" y="535" width="1" height="11" fill="#c0c0c0"/>
<rect x="1103" y="536" width="1" height="10" fill="#c0c0c0"/>
<rect x="1107" y="536" width="1" height="10" fill="#c0c0c0"/>
<rect x="1111" y="536" width="1" height="10" fill="#c0c0c0"/>
<rect x="1115" y="536" width="1" height="10" fill="#c0c0c0"/>
<rect x="1119" y="536" width="1" height="10" fill="#c0c0c0"/>
<rect x="1123" y="537" width="1" height="9" fill="#c0c0c0"/>
<rect x="1127" y="537" width="1" height="9" fill="#c0c0c0"/>
<rect x="1131" y="537" width="1" height="9" fill="#c0c0c0"/>
<rect x="1135" y="538" width="1" height="8" fill="#c0c0c0"/>
<rect x="1139" y="539" width="1" height="7" fill="#c0c0c0"/>
<rect x="1143" y="540" width="1" height="6" fill="#c0c0c0"/>
<rect x="1147" y="541" width="1" height="5" fill="#c0c0c0"/>
<rect x="1151" y="541" width="1" height="5" fill="#c0c0c0"/>
<rect x="1155" y="542" width="1" height="4" fill="#c0c0c0"/>
<rect x="1159" y="542" width="1" height="4" fill="#c0c0c0"/>
<rect x="1163" y="542" width="1" height="4" fill="#c0c0c0"/>
<rect x="1167" y="540" width="1" height="6" fill="#c0c0c0"/>
<rect x="1171" y="541" width="1" height="5" fill="#c0c0c0"/>
<rect x="1175" y="541" width="1" height="5" fill="#c0c0c0"/>
<rect x="1179" y="540" width="1" height="6" fill="#c0c0c0"/>
<rect x="1183" y="540" width="1" height="6" fill="#c0c0c0"/>
<rect x="1187" y="540" width="1" height="6" fill="#c0c0c0"/>
<rect x="1191" y="540" width="1" height="6" fill="#c0c0c0"/>
<rect x="1195" y="540" width="1" height="6" fill="#c0c0c0"/>
<rect x="1199" y="539" width="1" height="7" fill="#c0c0c0"/>
<rect x="1203" y="539" width="1" height="7" fill="#c0c0c0"/>
<rect x="1207" y="539" width="1" height="7" fill="#c0c0c0"/>
<rect x="1211" y="539" width="1" height="7" fill="#c0c0c0"/>
<rect x="1215" y="539" width="1" height="7" fill="#c0c0c0"/>
<rect x="1219" y="540" width="1" height="6" fill="#c0c0c0"/>
<rect x="1223" y="541" width="1" height="5" fill="#c0c0c0"/>
<rect x="1227" y="539" width="1" height="7" fill="#c0c0c0"/>
<rect x="1231" y="539" width="1" height="7" fill="#c0c0c0"/>
<rect x="1235" y="538" width="1" height="8" fill="#c0c0c0"/>
<rect x="1239" y="538" width="1" height="8" fill="#c0c0c0"/>
<rect x="1243" y="538" width="1" height="8" fill="#c0c0c0"/>
<rect x="1247" y="536" width="1" height="10" fill="#c0c0c0"/>
<rect x="1251" y="535" width="1" height="11" fill="#c0c0c0"/>
<rect x="1255" y="534" width="1" height="12" fill="#c0c0c0"/>
<rect x="1259" y="534" width="1" height="12" fill="#c0c0c0"/>
<rect x="1263" y="534" width="1" height="12" fill="#c0c0c0"/>
<rect x="1267" y="534" width="1" height="12" fill="#c0c0c0"/>
<rect x="1271" y="534" width="1" height="12" fill="#c0c0c0"/>
<rect x="1275" y="534" width="1" height="12" fill="#c0c0c0"/>
<rect x="1279" y="535" width="1" height="11" fill="#c0c0c0"/>
<rect x="1283" y="536" width="1" height="10" fill="#c0c0c0"/>
</g>
<polyline points="7.0,539.0 15.7,538.3 26.1,535.1 39.2,532.5 52.3,531.8 65.4,533.1 78.4,535.1 91.5,539.6 99.3,542.3 111.1,546.2 124.2,550.5 137.3,553.1 150.3,554.7 163.4,555.7 176.5,554.9 189.5,553.1 200.0,551.0 209.2,549.2 223.3,548.4 230.5,549.5 237.0,550.5 243.5,552.7 250.0,554.4 256.6,557.0 265.8,558.3 272.3,559.5 278.8,559.5 285.4,558.6 298.4,558.6 311.5,557.6 319.3,557.3 327.2,555.3 332.4,554.9 339.0,553.4 344.2,552.3 350.7,550.1 356.0,549.5 362.5,547.1 369.0,545.8 375.6,545.3 382.1,543.6 387.3,542.3 392.5,541.0 399.1,538.3 405.6,536.6 412.2,535.1 418.7,533.8 426.5,533.5 440.0,532.5 447.8,531.4 453.1,531.2 458.3,529.6 464.8,528.5 472.7,528.3 479.2,529.2 484.4,530.9 489.7,532.5 494.9,534.8 501.4,537.9 506.7,541.6 511.9,544.5 518.4,548.8 525.0,552.1 531.5,554.4 536.7,556.0 543.3,557.3 551.1,558.3 557.6,559.3 566.8,559.9 573.3,560.6 581.2,561.9 590.3,562.5 596.9,561.5 603.4,560.2 609.9,558.6 619.1,556.6 626.9,553.4 633.5,551.8 640.0,550.1 649.2,548.8 660.0,546.8 661.3,547.5 667.8,548.4 675.7,549.5 680.9,550.1 691.4,552.3 699.2,553.4 709.7,555.7 716.2,557.3 728.0,559.5 735.8,561.2 751.5,561.2 764.6,561.2 775.0,562.5 782.9,564.1 794.6,565.1 801.2,565.3 807.7,567.5 816.9,567.8 824.7,568.4 829.9,570.4 836.5,572.3 843.0,574.5 849.5,575.3 856.1,575.3 860.0,574.3 866.5,571.7 871.8,568.4 877.0,563.8 883.3,559.3 890.5,554.0 897.0,549.5 902.2,546.6 908.8,543.6 915.3,541.0 921.8,538.3 928.4,537.4 934.9,536.4 945.4,536.4 951.9,537.4 958.4,537.4 965.0,538.3 968.9,539.3 975.4,541.3 980.7,542.3 987.2,544.5 993.7,544.5 999.0,546.2 1004.2,546.2 1010.7,545.5 1016.0,544.5 1022.5,541.6 1029.0,539.0 1035.6,537.4 1040.8,535.7 1047.3,534.4 1053.9,533.8 1060.4,533.1 1066.9,532.2 1076.1,531.4 1083.9,531.4 1089.2,531.4 1095.7,532.2 1100.0,532.2 1106.5,533.1 1113.1,534.4 1119.6,534.4 1126.1,535.1 1132.7,535.3 1139.2,536.1 1149.7,537.4 1154.9,538.3 1161.4,539.0 1168.0,540.3 1178.4,540.6 1191.5,540.6 1196.7,539.6 1204.6,539.3 1217.6,539.3 1230.7,539.3 1238.6,539.0 1243.8,538.3 1250.3,537.4 1256.9,536.6 1263.4,535.1 1269.9,534.4 1281.7,534.4" fill="none" stroke="#ff0000" stroke-width="1" stroke-dasharray="3,3" shape-rendering="crispEdges"/>
<g shape-rendering="crispEdges">
<line x1="7" y1="622.5" x2="1612" y2="622.5" stroke="#c0c0c0" stroke-dasharray="3,3" stroke-dashoffset="-1"/>
<line x1="7" y1="672.5" x2="1612" y2="672.5" stroke="#c0c0c0" stroke-dasharray="3,3" stroke-dashoffset="-1"/>
</g>
<polyline points="7.1,623.4 10.1,621.3 16.8,616.0 19.4,614.6 26.9,614.6 31.1,622.2 35.3,620.5 39.5,627.2 42.9,625.5 45.4,626.0 50.5,630.1 54.7,634.8 58.9,642.4 63.1,646.1 71.5,646.1 75.7,637.8 79.1,639.8 84.1,649.9 87.5,662.6 91.7,666.8 95.9,670.1 99.3,663.4 103.5,662.1 106.8,660.4 111.1,663.1 115.3,669.0 119.5,659.5 127.9,664.2 131.2,665.4 135.5,662.6 139.7,667.3 143.9,672.7 147.2,674.3 151.4,662.6 155.6,664.2 159.0,671.0 163.2,649.6 168.3,649.3 171.6,648.3 175.8,649.6 179.7,652.1 185.1,644.6 190.1,642.4 191.8,642.9 196.0,646.2 199.4,646.2 202.8,644.4 206.1,646.1 210.3,654.1 215.4,663.7 220.4,665.4 223.8,667.3 228.8,668.4 232.2,669.6 235.6,673.5 238.9,681.4 243.1,682.2 247.3,673.5 251.6,668.4 255.8,669.5 259.1,665.4 262.5,663.4 267.5,667.3 270.9,668.4 274.3,667.6 270.0,668.4 274.2,667.6 278.4,670.1 283.5,673.5 287.7,673.5 291.0,667.6 294.4,666.4 297.8,666.8 303.7,669.3 307.4,664.2 311.7,668.4 315.4,663.7 320.5,658.4 325.5,649.1 331.4,639.5 334.8,637.3 339.3,645.2 347.1,641.5 351.6,644.6 355.8,638.2 360.0,636.0 363.4,631.4 368.4,631.1 371.8,629.7 375.7,627.2 379.4,630.1 382.7,614.6 387.8,611.6 394.5,614.6 403.8,623.4 407.6,614.3 412.2,625.5 416.4,624.7 419.8,626.4 423.5,633.6 428.2,627.7 432.4,624.7 439.1,611.6 445.8,610.9 448.4,611.6 452.6,620.5 455.6,630.6 463.5,629.7 468.6,634.0 471.9,635.1 474.9,633.5 479.5,639.0 482.4,658.4 484.5,662.6 487.9,664.2 495.5,661.2 502.2,659.2 504.7,662.6 507.3,670.1 511.5,673.5 515.3,668.4 523.7,677.4 527.4,661.7 531.7,652.8 540.1,659.5 543.4,658.0 546.7,656.3 550.9,668.1 555.1,666.4 560.2,670.5 563.6,669.3 569.4,664.2 572.0,664.6 575.3,670.1 579.5,658.4 583.7,656.3 588.0,657.5 591.3,656.3 595.5,647.4 599.7,647.9 603.1,652.0 607.3,654.1 611.5,648.6 614.9,651.3 623.3,640.3 626.7,644.9 631.7,647.4 635.1,645.2 639.3,644.4 643.5,651.3 646.8,649.6 651.9,652.5 655.3,652.5 659.5,658.4 663.7,660.4 670.4,659.5 675.5,667.3 679.7,667.3 688.1,662.6 692.3,664.2 698.2,667.9 703.2,679.1 707.4,676.5 711.6,676.4 717.5,673.0 722.6,672.7 727.6,680.6 731.0,673.5 735.2,668.4 739.4,667.1 743.6,663.7 747.8,654.1 751.7,671.5 756.2,674.3 759.6,676.5 763.0,677.7 767.2,666.4 770.5,667.6 775.6,675.2 779.8,671.5 784.0,671.5 787.3,670.5 791.1,671.8 795.8,669.3 803.3,683.3 807.5,680.2 812.6,674.8 810.0,676.4 814.2,674.0 817.6,674.8 822.6,679.4 826.8,687.3 831.0,685.3 834.9,686.6 839.4,682.2 843.7,676.5 847.0,677.7 851.2,649.6 855.4,640.3 860.5,640.7 863.8,643.2 867.2,649.1 872.3,651.6 875.6,649.9 879.0,636.5 883.2,633.6 887.4,636.1 891.6,632.3 895.5,639.5 899.2,633.5 903.4,641.2 907.6,638.5 913.5,637.3 919.4,637.3 923.6,642.7 926.9,641.5 934.5,635.1 939.6,644.1 943.8,648.6 947.6,649.9 951.3,642.4 954.7,640.2 959.8,649.4 963.1,648.3 969.0,649.4 974.9,653.0 983.3,657.2 990.0,649.1 995.1,644.4 999.3,633.6 1003.5,631.9 1010.2,628.9 1019.5,628.4 1023.4,634.3 1027.1,628.6 1032.1,628.1 1039.2,625.2 1043.0,628.4 1047.3,622.7 1051.5,633.5 1055.7,627.7 1063.2,624.7 1067.4,628.6 1075.0,629.4 1079.2,625.5 1082.9,631.9 1086.0,634.0 1080.0,626.0 1083.4,631.8 1086.7,634.0 1091.8,639.5 1096.0,638.2 1101.0,630.6 1104.4,629.4 1112.0,629.4 1114.5,628.4 1119.5,631.1 1122.9,632.3 1128.0,630.6 1131.3,628.6 1138.9,644.9 1143.1,646.2 1147.3,646.2 1151.5,638.2 1154.9,636.1 1159.4,640.2 1163.3,633.6 1166.7,634.5 1171.2,643.5 1175.6,633.5 1180.1,631.8 1184.3,629.4 1187.7,630.3 1191.1,627.2 1195.3,631.4 1202.8,625.5 1207.9,635.3 1211.2,637.3 1215.5,644.6 1219.7,641.2 1226.4,628.1 1231.4,626.0 1235.6,622.2 1239.5,624.2 1244.1,621.3 1247.4,616.6 1251.6,615.4 1255.0,613.3 1263.4,621.3 1267.6,621.3 1275.2,627.2 1278.6,625.5 1282.8,625.5" fill="none" stroke="#1e90ff" stroke-width="1"/>
<g font-family="'Liberation Sans', sans-serif">
<path d="M10 51.5 L19 51.5 L14.5 46 Z" fill="#000"/>
<text x="25.3" y="52.7" fill="#000" font-size="12.4">SP500-,H4</text>
<text x="91.3" y="52.7" fill="#000" font-size="12.4">2659.500</text>
<text x="148.6" y="52.7" fill="#000" font-size="12.4">2663.000</text>
<text x="205.5" y="52.7" fill="#000" font-size="12.4">2659.000</text>
<text x="262.5" y="52.7" fill="#000" font-size="12.4">2662.500</text>
<text x="11" y="538" fill="#000" font-size="12.4" textLength="185" lengthAdjust="spacingAndGlyphs">MACD(12,26,9) 16.7533 18.5776</text>
<text x="10.8" y="599.6" fill="#000" font-size="12.4" textLength="92" lengthAdjust="spacingAndGlyphs">RSI(14) 68.0965</text>
</g>
<rect x="10" y="61" width="285" height="78" fill="#ffffff"/>
<path d="M10.5 61.5 H77.5 V88.5 H150.5 V136.5 H10.5 Z" fill="url(#glow)" stroke="#000090"/>
<rect x="11" y="62" width="66" height="25" fill="url(#gsell)"/>
<rect x="14" y="87" width="60" height="1" fill="#000090"/>
<rect x="14" y="88" width="60" height="1" fill="#7878ff"/>
<path d="M225.5 61.5 H292.5 V136.5 H153.5 V88.5 H225.5 Z" fill="url(#glow)" stroke="#000090"/>
<rect x="226" y="62" width="66" height="25" fill="url(#gsell)"/>
<rect x="229" y="87" width="60" height="1" fill="#000090"/>
<rect x="229" y="88" width="60" height="1" fill="#7878ff"/>
<rect x="80" y="61" width="143" height="25" fill="#a0a0a0"/>
<rect x="81" y="62" width="141" height="23" fill="#ffffff"/>
<rect x="82" y="63" width="22" height="21" fill="url(#gbtn)"/>
<rect x="104" y="62" width="1" height="23" fill="#a0a0a0"/>
<rect x="198" y="62" width="1" height="23" fill="#a0a0a0"/>
<rect x="199" y="63" width="22" height="21" fill="url(#gbtn)"/>
<path d="M88.5 72 L96.5 72 L92.5 76.5 Z" fill="#5468b8"/>
<path d="M206 76 L214 76 L210 71.5 Z" fill="#5468b8"/>
<g font-family="'Liberation Sans', sans-serif">
<text x="27" y="79.5" fill="#ffffff" font-size="14.6" textLength="34.6" lengthAdjust="spacingAndGlyphs">SELL</text>
<text x="242.8" y="79.5" fill="#ffffff" font-size="14.6" textLength="32.4" lengthAdjust="spacingAndGlyphs">BUY</text>
<text x="31.2" y="125.7" fill="#ffffff" font-size="14.8" font-weight="bold" textLength="36.2" lengthAdjust="spacingAndGlyphs">2662</text>
<text x="70.2" y="126.2" fill="#ffffff" font-size="42.6" textLength="45" lengthAdjust="spacingAndGlyphs">48</text>
<text x="120.2" y="107.9" fill="#ffffff" font-size="15" font-weight="bold" textLength="9.2" lengthAdjust="spacingAndGlyphs">5</text>
<text x="173.6" y="125.7" fill="#ffffff" font-size="14.8" font-weight="bold" textLength="35.8" lengthAdjust="spacingAndGlyphs">2663</text>
<text x="214.8" y="126.2" fill="#ffffff" font-size="42.6" textLength="44.2" lengthAdjust="spacingAndGlyphs">26</text>
<text x="263.4" y="107.9" fill="#ffffff" font-size="15" font-weight="bold" textLength="8.8" lengthAdjust="spacingAndGlyphs">5</text>
<text x="163.2" y="79.3" fill="#000000" font-size="14.8" textLength="32.6" lengthAdjust="spacingAndGlyphs">1.00</text>
</g>
<text x="1195" y="487" fill="#ff0000" font-size="33" font-family="'Liberation Sans', 'Noto Sans CJK SC', sans-serif">多空转折点<tspan font-size="37" textLength="74.5" lengthAdjust="spacingAndGlyphs">2592</tspan></text>
</svg>
</body></html>
